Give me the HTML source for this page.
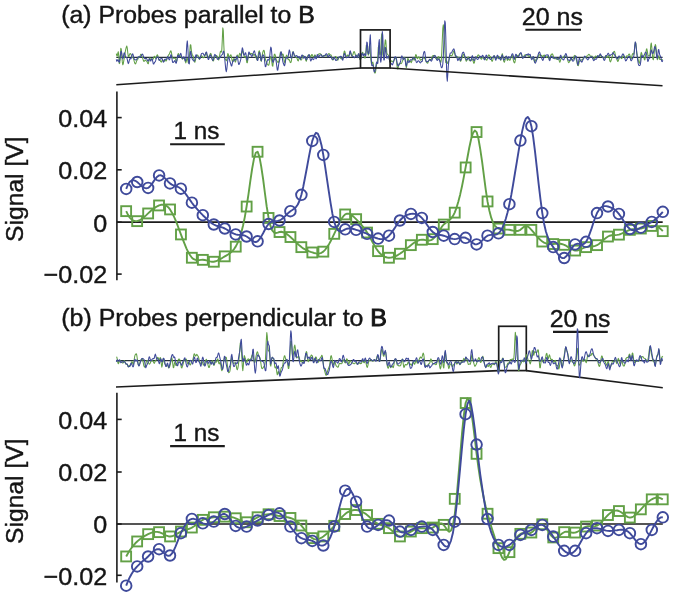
<!DOCTYPE html>
<html><head><meta charset="utf-8"><title>Probe signals</title>
<style>
html,body{margin:0;padding:0;background:#fff;}
#fig{position:relative;width:674px;height:602px;overflow:hidden;background:#fff;}
#fig svg{filter:blur(0.5px);}
</style></head><body>
<div id="fig">
<svg width="674" height="602" viewBox="0 0 674 602" style="position:absolute;left:0;top:0"><line x1="116.3" y1="57.4" x2="662.6" y2="57.4" stroke="#26323c" stroke-width="1.1"/><polyline points="116.3,53.7 116.8,55.6 117.3,56.0 117.8,53.2 118.3,51.8 118.8,56.7 119.3,63.6 119.8,63.0 120.3,54.8 120.8,48.2 121.3,49.2 121.8,55.6 122.3,61.9 122.8,64.8 123.3,63.7 123.8,60.7 124.3,57.8 124.8,55.0 125.3,51.7 125.8,49.1 126.3,47.2 126.8,46.0 127.3,48.2 127.8,53.0 128.3,56.3 128.8,56.5 129.3,55.1 129.8,53.9 130.3,53.5 130.8,54.1 131.3,55.1 131.8,56.2 132.3,57.1 132.8,57.6 133.3,58.2 133.8,59.7 134.3,61.7 134.8,63.3 135.3,64.0 135.8,63.5 136.3,61.9 136.8,60.5 137.3,60.0 137.8,59.3 138.3,58.0 138.8,57.2 139.3,57.2 139.8,56.8 140.3,55.3 140.8,54.2 141.3,54.7 141.8,56.0 142.3,57.1 142.8,58.6 143.3,60.3 143.8,61.4 144.3,61.3 144.8,60.6 145.3,60.0 145.8,60.3 146.3,60.9 146.8,61.3 147.3,62.2 147.8,63.6 148.3,63.8 148.8,61.5 149.3,58.5 149.8,57.8 150.3,59.1 150.8,59.7 151.3,59.1 151.8,58.8 152.3,59.2 152.8,59.4 153.3,58.6 153.8,57.2 154.3,56.3 154.8,56.5 155.3,57.8 155.8,58.6 156.3,57.5 156.8,55.6 157.3,54.8 157.8,55.6 158.3,57.5 158.8,59.3 159.3,60.1 159.8,60.0 160.3,60.5 160.8,61.7 161.3,62.1 161.8,61.0 162.3,59.7 162.8,59.9 163.3,61.2 163.8,61.7 164.3,60.7 164.8,59.9 165.3,60.3 165.8,61.0 166.3,60.9 166.8,59.7 167.3,57.9 167.8,56.4 168.3,55.4 168.8,54.7 169.3,54.1 169.8,53.1 170.3,51.5 170.8,50.7 171.3,51.9 171.8,54.6 172.3,57.1 172.8,58.2 173.3,58.2 173.8,58.3 174.3,58.3 174.8,58.0 175.3,58.5 175.8,60.2 176.3,61.5 176.8,60.7 177.3,57.7 177.8,54.6 178.3,53.5 178.8,54.4 179.3,55.8 179.8,56.4 180.3,56.2 180.8,56.0 181.3,56.6 181.8,57.9 182.3,58.9 182.8,58.9 183.3,58.6 183.8,58.4 184.3,58.4 184.8,59.3 185.3,61.3 185.8,62.9 186.3,61.4 186.8,58.6 187.3,58.2 187.8,60.5 188.3,62.8 188.8,62.6 189.3,58.7 189.8,51.2 190.3,44.7 190.8,44.9 191.3,49.7 191.8,53.5 192.3,54.9 192.8,55.5 193.3,56.9 193.8,59.3 194.3,61.5 194.8,62.2 195.3,60.9 195.8,58.5 196.3,56.3 196.8,55.4 197.3,55.1 197.8,55.1 198.3,56.2 198.8,58.3 199.3,59.4 199.8,58.7 200.3,57.5 200.8,56.4 201.3,55.7 201.8,55.8 202.3,56.6 202.8,57.5 203.3,57.8 203.8,57.7 204.3,57.3 204.8,56.1 205.3,54.3 205.8,53.0 206.3,53.3 206.8,54.8 207.3,56.5 207.8,57.3 208.3,57.1 208.8,56.5 209.3,55.9 209.8,54.9 210.3,53.7 210.8,53.4 211.3,54.7 211.8,57.0 212.3,59.2 212.8,60.7 213.3,60.9 213.8,59.9 214.3,58.1 214.8,56.7 215.3,55.9 215.8,55.7 216.3,55.6 216.8,55.7 217.3,56.5 217.8,58.1 218.3,59.7 218.8,59.9 219.3,57.9 219.8,54.5 220.3,51.8 220.8,51.2 221.3,52.1 221.8,50.1 222.3,39.8 222.8,27.9 223.3,30.5 223.8,44.7 224.3,55.1 224.8,58.7 225.3,59.2 225.8,59.7 226.3,60.7 226.8,60.1 227.3,56.8 227.8,53.6 228.3,54.1 228.8,56.7 229.3,57.5 229.8,56.5 230.3,55.5 230.8,54.8 231.3,55.9 231.8,58.9 232.3,61.2 232.8,61.4 233.3,60.0 233.8,58.5 234.3,58.7 234.8,60.7 235.3,62.1 235.8,61.2 236.3,58.8 236.8,56.2 237.3,55.0 237.8,55.9 238.3,57.2 238.8,56.6 239.3,54.4 239.8,53.2 240.3,54.1 240.8,55.5 241.3,55.3 241.8,52.9 242.3,50.8 242.8,51.0 243.3,53.0 243.8,55.2 244.3,56.8 244.8,57.1 245.3,56.3 245.8,56.7 246.3,59.5 246.8,62.5 247.3,62.8 247.8,59.9 248.3,55.8 248.8,53.4 249.3,53.4 249.8,54.2 250.3,54.0 250.8,53.3 251.3,53.4 251.8,53.9 252.3,53.8 252.8,54.0 253.3,55.0 253.8,55.3 254.3,54.6 254.8,54.8 255.3,56.1 255.8,57.3 256.3,58.1 256.8,59.5 257.3,60.3 257.8,58.1 258.3,54.3 258.8,51.5 259.3,50.8 259.8,52.7 260.3,56.8 260.8,60.4 261.3,61.2 261.8,58.7 262.3,54.9 262.8,52.3 263.3,50.9 263.8,50.2 264.3,51.1 264.8,54.8 265.3,58.8 265.8,60.5 266.3,61.4 266.8,62.9 267.3,64.3 267.8,64.8 268.3,65.1 268.8,65.1 269.3,63.1 269.8,59.8 270.3,57.4 270.8,56.6 271.3,57.9 271.8,61.8 272.3,65.8 272.8,66.2 273.3,62.2 273.8,57.3 274.3,54.4 274.8,54.1 275.3,55.4 275.8,57.8 276.3,59.9 276.8,60.9 277.3,61.5 277.8,62.2 278.3,62.5 278.8,61.6 279.3,59.2 279.8,55.7 280.3,52.7 280.8,52.0 281.3,53.8 281.8,55.4 282.3,54.8 282.8,53.9 283.3,54.8 283.8,58.0 284.3,61.6 284.8,62.9 285.3,61.0 285.8,58.0 286.3,55.6 286.8,55.1 287.3,56.4 287.8,58.5 288.3,59.7 288.8,59.6 289.3,59.8 289.8,61.1 290.3,62.5 290.8,62.6 291.3,61.2 291.8,58.1 292.3,54.2 292.8,51.8 293.3,52.0 293.8,53.6 294.3,54.8 294.8,55.4 295.3,56.4 295.8,57.3 296.3,57.6 296.8,57.9 297.3,59.0 297.8,60.5 298.3,60.9 298.8,59.2 299.3,57.1 299.8,57.1 300.3,58.7 300.8,60.0 301.3,60.0 301.8,59.2 302.3,57.7 302.8,56.1 303.3,55.6 303.8,56.1 304.3,56.5 304.8,56.9 305.3,58.3 305.8,60.5 306.3,61.2 306.8,59.7 307.3,57.4 307.8,55.6 308.3,55.0 308.8,54.9 309.3,54.8 309.8,55.3 310.3,56.7 310.8,57.0 311.3,55.7 311.8,54.5 312.3,54.7 312.8,55.9 313.3,56.9 313.8,56.9 314.3,55.9 314.8,54.9 315.3,55.2 315.8,56.8 316.3,57.9 316.8,57.5 317.3,56.3 317.8,55.5 318.3,54.8 318.8,54.0 319.3,53.7 319.8,53.7 320.3,53.8 320.8,54.1 321.3,54.6 321.8,55.3 322.3,56.3 322.8,56.8 323.3,56.2 323.8,55.6 324.3,55.6 324.8,55.5 325.3,55.5 325.8,55.9 326.3,56.1 326.8,55.7 327.3,55.4 327.8,55.0 328.3,54.3 328.8,53.6 329.3,53.7 329.8,54.6 330.3,54.9 330.8,54.7 331.3,55.5 331.8,57.4 332.3,59.2 332.8,59.9 333.3,59.7 333.8,59.0 334.3,58.0 334.8,57.1 335.3,56.5 335.8,56.6 336.3,57.3 336.8,58.3 337.3,59.7 337.8,60.2 338.3,59.2 338.8,57.5 339.3,56.7 339.8,56.9 340.3,57.7 340.8,58.5 341.3,58.8 341.8,58.8 342.3,58.9 342.8,58.3 343.3,56.3 343.8,53.3 344.3,51.1 344.8,51.3 345.3,53.3 345.8,55.4 346.3,56.5 346.8,56.3 347.3,55.3 347.8,55.1 348.3,55.8 348.8,56.0 349.3,55.1 349.8,53.4 350.3,52.4 350.8,53.2 351.3,55.1 351.8,56.3 352.3,56.0 352.8,54.8 353.3,53.1 353.8,51.7 354.3,51.6 354.8,52.9 355.3,54.8 355.8,56.2 356.3,56.5 356.8,56.7 357.3,56.7 357.8,55.3 358.3,54.0 358.8,55.1 359.3,57.6 359.8,59.4 360.3,60.0 360.8,59.3 361.3,57.3 361.8,54.3 362.3,52.3 362.8,52.5 363.3,53.9 363.8,55.1 364.3,56.3 364.8,58.0 365.3,57.9 365.8,52.0 366.3,45.2 366.8,46.6 367.3,50.9 367.8,53.4 368.3,55.2 368.8,53.6 369.3,46.1 369.8,44.3 370.3,52.5 370.8,59.6 371.3,63.2 371.8,63.9 372.3,62.6 372.8,62.1 373.3,64.2 373.8,67.7 374.3,71.0 374.8,73.0 375.3,73.0 375.8,70.4 376.3,66.4 376.8,63.7 377.3,62.3 377.8,57.1 378.3,47.4 378.8,45.7 379.3,51.6 379.8,55.0 380.3,54.9 380.8,50.0 381.3,38.4 381.8,33.7 382.3,44.8 382.8,54.5 383.3,56.4 383.8,54.4 384.3,50.5 384.8,44.9 385.3,39.8 385.8,40.8 386.3,47.1 386.8,52.4 387.3,54.3 387.8,54.7 388.3,55.1 388.8,56.6 389.3,59.1 389.8,61.6 390.3,62.6 390.8,62.0 391.3,61.1 391.8,60.8 392.3,61.3 392.8,61.8 393.3,61.7 393.8,60.9 394.3,59.7 394.8,58.7 395.3,58.1 395.8,57.8 396.3,59.4 396.8,63.8 397.3,68.2 397.8,69.1 398.3,66.8 398.8,64.3 399.3,63.4 399.8,63.5 400.3,63.6 400.8,63.7 401.3,63.5 401.8,62.7 402.3,61.4 402.8,60.2 403.3,59.0 403.8,58.1 404.3,57.4 404.8,57.6 405.3,60.1 405.8,64.8 406.3,67.7 406.8,65.8 407.3,61.2 407.8,58.4 408.3,59.0 408.8,60.8 409.3,61.5 409.8,61.2 410.3,61.1 410.8,62.0 411.3,62.6 411.8,61.6 412.3,59.2 412.8,57.7 413.3,58.4 413.8,59.9 414.3,60.2 414.8,58.7 415.3,56.3 415.8,54.6 416.3,55.2 416.8,57.3 417.3,58.7 417.8,58.3 418.3,57.2 418.8,56.8 419.3,57.3 419.8,58.6 420.3,60.0 420.8,60.2 421.3,59.6 421.8,59.5 422.3,59.1 422.8,58.1 423.3,57.7 423.8,58.1 424.3,58.3 424.8,58.4 425.3,59.5 425.8,61.0 426.3,61.8 426.8,62.4 427.3,63.2 427.8,63.1 428.3,61.6 428.8,60.5 429.3,60.1 429.8,59.8 430.3,59.6 430.8,59.9 431.3,59.5 431.8,57.9 432.3,56.4 432.8,55.7 433.3,55.4 433.8,55.4 434.3,55.5 434.8,55.8 435.3,56.9 435.8,58.1 436.3,58.9 436.8,59.4 437.3,59.3 437.8,58.0 438.3,56.6 438.8,57.0 439.3,58.7 439.8,60.3 440.3,61.6 440.8,62.4 441.3,60.0 441.8,51.9 442.3,39.4 442.8,28.4 443.3,24.7 443.8,29.2 444.3,38.2 444.8,48.7 445.3,58.5 445.8,62.6 446.3,61.4 446.8,61.1 447.3,62.5 447.8,63.5 448.3,62.9 448.8,60.4 449.3,57.5 449.8,55.7 450.3,55.2 450.8,55.4 451.3,55.7 451.8,55.7 452.3,55.1 452.8,53.8 453.3,51.9 453.8,50.9 454.3,51.7 454.8,54.0 455.3,56.1 455.8,56.8 456.3,56.4 456.8,56.3 457.3,56.8 457.8,57.4 458.3,57.5 458.8,57.2 459.3,57.5 459.8,59.3 460.3,61.1 460.8,61.1 461.3,59.8 461.8,58.4 462.3,57.0 462.8,55.3 463.3,54.2 463.8,54.5 464.3,55.9 464.8,57.3 465.3,58.6 465.8,60.2 466.3,61.2 466.8,60.6 467.3,58.9 467.8,57.2 468.3,56.9 468.8,58.6 469.3,60.4 469.8,60.8 470.3,60.6 470.8,60.6 471.3,60.2 471.8,59.2 472.3,58.9 472.8,60.0 473.3,61.8 473.8,63.2 474.3,63.0 474.8,60.7 475.3,58.0 475.8,57.0 476.3,57.2 476.8,57.3 477.3,56.5 477.8,55.4 478.3,54.8 478.8,55.2 479.3,55.9 479.8,56.5 480.3,57.5 480.8,58.6 481.3,59.2 481.8,58.9 482.3,57.7 482.8,56.7 483.3,57.2 483.8,58.4 484.3,59.0 484.8,58.6 485.3,58.5 485.8,59.0 486.3,59.9 486.8,60.2 487.3,59.1 487.8,57.1 488.3,55.4 488.8,54.9 489.3,55.4 489.8,56.1 490.3,56.6 490.8,57.7 491.3,59.5 491.8,61.1 492.3,61.3 492.8,59.9 493.3,57.6 493.8,55.8 494.3,55.7 494.8,56.8 495.3,57.8 495.8,58.2 496.3,58.5 496.8,58.6 497.3,58.1 497.8,57.1 498.3,56.4 498.8,56.4 499.3,57.1 499.8,58.2 500.3,59.6 500.8,60.1 501.3,58.4 501.8,55.2 502.3,53.7 502.8,55.7 503.3,59.1 503.8,61.5 504.3,62.2 504.8,61.1 505.3,58.6 505.8,56.4 506.3,56.6 506.8,58.6 507.3,60.4 507.8,60.1 508.3,58.8 508.8,58.7 509.3,59.8 509.8,60.3 510.3,59.7 510.8,58.2 511.3,56.5 511.8,55.3 512.3,55.4 512.8,57.2 513.3,59.8 513.8,61.8 514.3,62.9 514.8,62.6 515.3,60.5 515.8,57.3 516.3,55.3 516.8,55.1 517.3,55.7 517.8,55.8 518.3,55.6 518.8,55.1 519.3,54.3 519.8,53.6 520.3,53.6 520.8,53.9 521.3,54.4 521.8,55.5 522.3,56.9 522.8,57.7 523.3,57.5 523.8,56.6 524.3,55.6 524.8,54.9 525.3,54.9 525.8,54.8 526.3,54.5 526.8,54.6 527.3,55.0 527.8,55.3 528.3,55.7 528.8,56.3 529.3,56.4 529.8,56.1 530.3,56.3 530.8,57.3 531.3,58.0 531.8,57.8 532.3,57.2 532.8,56.9 533.3,57.7 533.8,59.6 534.3,61.5 534.8,62.1 535.3,61.2 535.8,59.7 536.3,58.9 536.8,58.9 537.3,58.9 537.8,57.9 538.3,56.3 538.8,55.0 539.3,54.6 539.8,55.0 540.3,55.5 540.8,55.5 541.3,55.3 541.8,55.5 542.3,56.3 542.8,56.8 543.3,56.2 543.8,55.2 544.3,55.1 544.8,55.9 545.3,56.3 545.8,56.5 546.3,57.2 546.8,57.5 547.3,56.8 547.8,55.9 548.3,56.0 548.8,57.8 549.3,59.6 549.8,59.1 550.3,56.8 550.8,55.0 551.3,54.5 551.8,54.1 552.3,53.9 552.8,54.6 553.3,56.0 553.8,57.4 554.3,58.5 554.8,58.8 555.3,58.7 555.8,58.6 556.3,58.7 556.8,59.3 557.3,59.4 557.8,58.5 558.3,58.0 558.8,59.1 559.3,61.1 559.8,62.2 560.3,61.2 560.8,59.3 561.3,58.3 561.8,57.9 562.3,57.4 562.8,57.2 563.3,57.2 563.8,56.6 564.3,55.8 564.8,55.7 565.3,56.1 565.8,56.4 566.3,56.5 566.8,57.1 567.3,58.6 567.8,60.6 568.3,62.1 568.8,62.6 569.3,62.0 569.8,61.1 570.3,60.3 570.8,59.7 571.3,59.3 571.8,59.4 572.3,59.8 572.8,59.6 573.3,58.5 573.8,57.0 574.3,55.7 574.8,55.4 575.3,56.2 575.8,57.8 576.3,59.5 576.8,61.5 577.3,63.8 577.8,65.6 578.3,65.7 578.8,63.9 579.3,61.7 579.8,60.7 580.3,60.8 580.8,60.6 581.3,60.1 581.8,59.8 582.3,59.6 582.8,59.0 583.3,58.2 583.8,57.6 584.3,57.3 584.8,57.4 585.3,57.8 585.8,57.8 586.3,56.8 586.8,56.1 587.3,56.0 587.8,55.5 588.3,54.7 588.8,54.3 589.3,54.6 589.8,55.2 590.3,55.9 590.8,56.5 591.3,56.4 591.8,56.0 592.3,56.4 592.8,57.6 593.3,58.7 593.8,59.1 594.3,58.6 594.8,57.4 595.3,56.2 595.8,56.0 596.3,56.5 596.8,56.7 597.3,56.0 597.8,55.6 598.3,56.2 598.8,56.7 599.3,56.3 599.8,55.6 600.3,55.5 600.8,55.8 601.3,56.2 601.8,56.6 602.3,56.9 602.8,57.3 603.3,57.8 603.8,58.1 604.3,58.0 604.8,57.5 605.3,56.5 605.8,55.6 606.3,56.1 606.8,57.3 607.3,57.5 607.8,56.5 608.3,55.4 608.8,55.8 609.3,57.9 609.8,60.7 610.3,61.9 610.8,61.2 611.3,59.8 611.8,58.3 612.3,56.3 612.8,54.1 613.3,52.6 613.8,51.7 614.3,51.3 614.8,52.3 615.3,54.6 615.8,57.0 616.3,58.4 616.8,59.3 617.3,60.6 617.8,61.5 618.3,60.9 618.8,59.3 619.3,58.0 619.8,57.3 620.3,57.2 620.8,57.7 621.3,58.4 621.8,58.6 622.3,57.6 622.8,56.2 623.3,55.7 623.8,56.1 624.3,56.6 624.8,57.2 625.3,57.8 625.8,57.7 626.3,56.6 626.8,55.8 627.3,55.9 627.8,56.0 628.3,55.2 628.8,54.2 629.3,54.0 629.8,55.0 630.3,56.7 630.8,58.4 631.3,58.6 631.8,56.7 632.3,54.3 632.8,53.5 633.3,54.2 633.8,54.1 634.3,51.1 634.8,45.8 635.3,42.2 635.8,43.1 636.3,47.7 636.8,52.6 637.3,55.9 637.8,58.0 638.3,60.2 638.8,62.2 639.3,63.3 639.8,62.4 640.3,58.7 640.8,54.4 641.3,52.4 641.8,53.7 642.3,56.2 642.8,56.8 643.3,56.1 643.8,57.1 644.3,59.4 644.8,59.9 645.3,57.6 645.8,53.4 646.3,49.8 646.8,48.8 647.3,51.1 647.8,54.4 648.3,55.9 648.8,55.7 649.3,55.7 649.8,55.2 650.3,51.1 650.8,45.0 651.3,43.0 651.8,47.2 652.3,53.8 652.8,58.8 653.3,59.8 653.8,56.8 654.3,51.7 654.8,46.9 655.3,44.5 655.8,45.8 656.3,49.9 656.8,55.4 657.3,59.7 657.8,58.9 658.3,55.9 658.8,56.0 659.3,58.1 659.8,59.5 660.3,59.6 660.8,59.3 661.3,59.5 661.8,59.8 662.3,59.8 662.8,59.4" fill="none" stroke="#62a046" stroke-width="1.05" stroke-linejoin="round"/><polyline points="116.3,59.3 116.8,61.3 117.3,60.7 117.8,59.6 118.3,60.3 118.8,61.9 119.3,62.2 119.8,60.1 120.3,56.1 120.8,52.2 121.3,51.2 121.8,53.7 122.3,57.2 122.8,58.9 123.3,57.3 123.8,54.0 124.3,52.7 124.8,53.9 125.3,55.7 125.8,57.3 126.3,57.5 126.8,57.5 127.3,59.3 127.8,62.1 128.3,63.6 128.8,62.7 129.3,60.4 129.8,58.7 130.3,58.6 130.8,59.0 131.3,58.1 131.8,55.9 132.3,54.1 132.8,53.9 133.3,55.4 133.8,57.7 134.3,59.2 134.8,59.5 135.3,59.8 135.8,60.0 136.3,59.6 136.8,59.1 137.3,58.4 137.8,57.4 138.3,56.8 138.8,56.7 139.3,56.8 139.8,57.1 140.3,57.2 140.8,56.7 141.3,55.7 141.8,54.7 142.3,54.0 142.8,54.5 143.3,55.8 143.8,57.0 144.3,57.9 144.8,58.6 145.3,58.6 145.8,58.4 146.3,58.4 146.8,58.9 147.3,59.9 147.8,60.9 148.3,61.1 148.8,59.9 149.3,58.7 149.8,59.4 150.3,60.8 150.8,61.0 151.3,59.8 151.8,58.7 152.3,59.3 152.8,61.6 153.3,63.9 153.8,64.0 154.3,62.9 154.8,62.1 155.3,61.7 155.8,60.2 156.3,58.4 156.8,57.4 157.3,56.9 157.8,56.8 158.3,57.7 158.8,59.4 159.3,60.4 159.8,59.8 160.3,58.9 160.8,58.7 161.3,58.7 161.8,58.3 162.3,58.8 162.8,60.6 163.3,62.1 163.8,61.8 164.3,60.3 164.8,59.3 165.3,59.1 165.8,59.4 166.3,59.6 166.8,58.7 167.3,57.3 167.8,56.6 168.3,57.5 168.8,59.0 169.3,59.9 169.8,59.2 170.3,57.0 170.8,54.8 171.3,54.8 171.8,57.7 172.3,61.0 172.8,62.5 173.3,62.4 173.8,62.0 174.3,61.2 174.8,60.5 175.3,61.4 175.8,63.1 176.3,63.2 176.8,61.1 177.3,57.8 177.8,55.2 178.3,55.2 178.8,56.8 179.3,57.2 179.8,55.7 180.3,53.8 180.8,53.3 181.3,55.0 181.8,57.6 182.3,58.8 182.8,58.2 183.3,57.2 183.8,56.8 184.3,57.6 184.8,59.4 185.3,61.0 185.8,59.8 186.3,53.4 186.8,44.5 187.3,40.9 187.8,46.5 188.3,56.7 188.8,63.6 189.3,63.9 189.8,58.5 190.3,52.3 190.8,51.2 191.3,54.8 191.8,57.9 192.3,59.1 192.8,59.8 193.3,60.4 193.8,60.9 194.3,61.1 194.8,60.2 195.3,57.6 195.8,55.0 196.3,54.8 196.8,56.4 197.3,57.4 197.8,57.5 198.3,57.6 198.8,58.0 199.3,58.7 199.8,58.9 200.3,57.7 200.8,55.6 201.3,54.0 201.8,53.4 202.3,53.3 202.8,53.2 203.3,53.6 203.8,54.7 204.3,55.5 204.8,55.4 205.3,54.3 205.8,52.8 206.3,51.9 206.8,52.8 207.3,55.3 207.8,58.1 208.3,59.5 208.8,59.2 209.3,57.7 209.8,55.8 210.3,54.8 210.8,55.4 211.3,57.1 211.8,58.6 212.3,59.7 212.8,60.5 213.3,60.0 213.8,57.9 214.3,55.5 214.8,54.4 215.3,54.9 215.8,55.7 216.3,56.6 216.8,57.9 217.3,59.1 217.8,59.4 218.3,59.0 218.8,58.2 219.3,57.8 219.8,57.9 220.3,57.4 220.8,56.2 221.3,55.2 221.8,54.9 222.3,54.5 222.8,53.2 223.3,51.2 223.8,51.3 224.3,54.6 224.8,59.3 225.3,64.6 225.8,69.6 226.3,71.7 226.8,69.2 227.3,64.4 227.8,59.9 228.3,57.2 228.8,56.9 229.3,58.6 229.8,61.0 230.3,62.5 230.8,64.0 231.3,65.9 231.8,65.9 232.3,63.5 232.8,61.5 233.3,61.1 233.8,60.9 234.3,59.8 234.8,59.3 235.3,59.9 235.8,59.8 236.3,58.0 236.8,56.1 237.3,56.4 237.8,59.3 238.3,62.8 238.8,64.5 239.3,64.1 239.8,62.6 240.3,61.1 240.8,59.2 241.3,55.8 241.8,51.1 242.3,47.8 242.8,48.9 243.3,52.4 243.8,54.7 244.3,55.2 244.8,54.2 245.3,52.8 245.8,53.0 246.3,55.8 246.8,59.0 247.3,60.2 247.8,58.4 248.3,54.7 248.8,52.0 249.3,52.3 249.8,54.0 250.3,54.6 250.8,54.6 251.3,55.6 251.8,56.5 252.3,55.9 252.8,54.3 253.3,52.9 253.8,51.6 254.3,50.8 254.8,52.0 255.3,54.5 255.8,55.5 256.3,55.9 256.8,57.9 257.3,60.2 257.8,60.4 258.3,58.2 258.8,55.0 259.3,52.4 259.8,52.5 260.3,55.4 260.8,59.1 261.3,60.8 261.8,58.9 262.3,56.0 262.8,54.9 263.3,54.9 263.8,55.6 264.3,58.1 264.8,62.9 265.3,66.7 265.8,66.6 266.3,64.5 266.8,62.3 267.3,60.6 267.8,59.6 268.3,59.7 268.8,60.2 269.3,59.1 269.8,55.4 270.3,50.4 270.8,47.1 271.3,48.3 271.8,53.9 272.3,59.7 272.8,62.3 273.3,62.1 273.8,60.8 274.3,59.4 274.8,58.4 275.3,58.4 275.8,59.7 276.3,62.3 276.8,66.3 277.3,70.1 277.8,70.2 278.3,66.8 278.8,63.5 279.3,61.7 279.8,59.4 280.3,55.5 280.8,52.1 281.3,51.9 281.8,54.6 282.3,58.1 282.8,61.3 283.3,63.3 283.8,64.5 284.3,65.8 284.8,65.2 285.3,62.1 285.8,59.0 286.3,57.4 286.8,57.7 287.3,58.2 287.8,57.8 288.3,55.9 288.8,52.4 289.3,49.9 289.8,51.1 290.3,54.7 290.8,57.4 291.3,58.2 291.8,57.5 292.3,55.2 292.8,52.4 293.3,51.8 293.8,53.7 294.3,55.6 294.8,56.3 295.3,56.3 295.8,56.2 296.3,55.7 296.8,55.5 297.3,56.3 297.8,57.4 298.3,57.3 298.8,56.5 299.3,56.8 299.8,58.4 300.3,59.3 300.8,58.3 301.3,56.5 301.8,55.3 302.3,55.0 302.8,55.8 303.3,57.3 303.8,58.3 304.3,57.6 304.8,56.3 305.3,56.6 305.8,58.5 306.3,59.8 306.8,59.3 307.3,58.0 307.8,57.0 308.3,56.0 308.8,54.8 309.3,54.8 309.8,57.0 310.3,59.9 310.8,61.0 311.3,60.0 311.8,58.7 312.3,58.5 312.8,59.1 313.3,59.6 313.8,59.3 314.3,57.7 314.8,56.1 315.3,56.7 315.8,58.7 316.3,58.8 316.8,56.4 317.3,54.5 317.8,55.2 318.3,57.0 318.8,57.2 319.3,56.1 319.8,55.2 320.3,54.9 320.8,54.7 321.3,55.0 321.8,56.0 322.3,56.7 322.8,56.4 323.3,55.8 323.8,55.8 324.3,56.0 324.8,55.6 325.3,54.9 325.8,54.2 326.3,53.7 326.8,54.0 327.3,55.5 327.8,56.8 328.3,56.8 328.8,55.8 329.3,55.2 329.8,55.7 330.3,56.5 330.8,56.7 331.3,57.3 331.8,58.7 332.3,59.6 332.8,59.5 333.3,59.1 333.8,58.1 334.3,57.4 334.8,58.1 335.3,59.6 335.8,60.5 336.3,60.4 336.8,60.0 337.3,59.5 337.8,58.7 338.3,57.8 338.8,57.2 339.3,57.0 339.8,57.0 340.3,56.7 340.8,56.2 341.3,56.4 341.8,57.8 342.3,59.6 342.8,60.1 343.3,58.1 343.8,55.1 344.3,53.4 344.8,54.0 345.3,55.6 345.8,57.0 346.3,57.7 346.8,57.7 347.3,57.1 347.8,56.9 348.3,57.3 348.8,56.9 349.3,54.5 349.8,51.6 350.3,50.9 350.8,52.7 351.3,54.7 351.8,55.8 352.3,56.2 352.8,56.4 353.3,56.6 353.8,57.0 354.3,57.6 354.8,57.6 355.3,56.7 355.8,55.5 356.3,55.1 356.8,56.2 357.3,57.6 357.8,57.0 358.3,54.6 358.8,53.5 359.3,55.1 359.8,57.9 360.3,59.4 360.8,58.4 361.3,55.6 361.8,53.4 362.3,53.3 362.8,54.8 363.3,55.9 363.8,55.1 364.3,53.7 364.8,54.1 365.3,55.6 365.8,55.4 366.3,50.4 366.8,42.0 367.3,42.7 367.8,50.5 368.3,53.8 368.8,53.6 369.3,50.1 369.8,40.5 370.3,34.7 370.8,45.0 371.3,59.5 371.8,65.6 372.3,65.4 372.8,64.7 373.3,66.8 373.8,70.3 374.3,72.0 374.8,71.6 375.3,69.9 375.8,66.6 376.3,63.1 376.8,62.0 377.3,63.2 377.8,63.4 378.3,56.8 378.8,43.0 379.3,39.6 379.8,50.8 380.3,59.4 380.8,62.2 381.3,59.2 381.8,45.8 382.3,31.6 382.8,35.9 383.3,51.0 383.8,59.9 384.3,60.0 384.8,53.6 385.3,47.2 385.8,48.6 386.3,54.9 386.8,58.2 387.3,58.0 387.8,56.6 388.3,56.0 388.8,57.1 389.3,59.3 389.8,61.2 390.3,62.3 390.8,63.0 391.3,63.6 391.8,64.4 392.3,64.9 392.8,64.1 393.3,62.5 393.8,60.9 394.3,59.0 394.8,57.3 395.3,56.7 395.8,57.1 396.3,58.3 396.8,60.9 397.3,64.0 397.8,65.7 398.3,65.8 398.8,65.2 399.3,64.4 399.8,63.5 400.3,62.3 400.8,60.2 401.3,57.4 401.8,55.8 402.3,56.8 402.8,58.7 403.3,59.5 403.8,58.8 404.3,57.8 404.8,58.1 405.3,60.9 405.8,64.6 406.3,66.0 406.8,64.3 407.3,61.8 407.8,60.8 408.3,61.7 408.8,62.6 409.3,62.1 409.8,60.6 410.3,59.8 410.8,59.8 411.3,59.9 411.8,59.9 412.3,59.3 412.8,58.3 413.3,57.7 413.8,57.9 414.3,58.2 414.8,58.4 415.3,59.1 415.8,60.7 416.3,62.2 416.8,62.6 417.3,62.0 417.8,61.1 418.3,60.8 418.8,61.0 419.3,61.6 419.8,62.4 420.3,62.9 420.8,62.3 421.3,61.5 421.8,61.7 422.3,61.1 422.8,58.1 423.3,54.5 423.8,52.3 424.3,51.4 424.8,52.1 425.3,55.6 425.8,59.9 426.3,61.9 426.8,61.6 427.3,61.4 427.8,61.7 428.3,61.3 428.8,60.5 429.3,59.7 429.8,59.2 430.3,59.5 430.8,60.7 431.3,61.2 431.8,60.5 432.3,59.2 432.8,58.0 433.3,57.0 433.8,56.4 434.3,55.8 434.8,55.4 435.3,55.9 435.8,57.4 436.3,58.9 436.8,60.0 437.3,60.4 437.8,59.8 438.3,58.8 438.8,59.0 439.3,59.9 439.8,61.0 440.3,63.1 440.8,65.7 441.3,67.4 441.8,67.8 442.3,67.0 442.8,64.0 443.3,56.9 443.8,44.7 444.3,30.3 444.8,20.8 445.3,22.9 445.8,37.3 446.3,58.4 446.8,76.4 447.3,81.2 447.8,74.1 448.3,66.0 448.8,61.4 449.3,58.0 449.8,54.7 450.3,52.9 450.8,52.9 451.3,53.0 451.8,52.2 452.3,51.1 452.8,50.2 453.3,49.3 453.8,48.8 454.3,49.9 454.8,52.4 455.3,54.9 455.8,56.0 456.3,55.9 456.8,56.8 457.3,59.0 457.8,60.6 458.3,60.0 458.8,58.3 459.3,57.6 459.8,58.9 460.3,60.5 460.8,60.0 461.3,57.6 461.8,55.1 462.3,53.4 462.8,52.4 463.3,52.1 463.8,52.6 464.3,54.1 464.8,55.7 465.3,57.1 465.8,58.4 466.3,59.5 466.8,59.9 467.3,59.5 467.8,58.6 468.3,58.2 468.8,58.5 469.3,58.8 469.8,59.4 470.3,60.4 470.8,60.9 471.3,59.4 471.8,56.7 472.3,55.6 472.8,56.9 473.3,59.1 473.8,60.4 474.3,60.6 474.8,59.4 475.3,57.6 475.8,56.7 476.3,57.4 476.8,58.7 477.3,59.4 477.8,59.3 478.3,58.8 478.8,58.3 479.3,57.5 479.8,56.5 480.3,56.3 480.8,56.9 481.3,57.2 481.8,56.6 482.3,55.4 482.8,55.2 483.3,56.6 483.8,58.4 484.3,59.8 484.8,59.8 485.3,58.3 485.8,56.1 486.3,55.1 486.8,55.9 487.3,57.3 487.8,58.0 488.3,57.9 488.8,57.9 489.3,58.2 489.8,58.9 490.3,59.4 490.8,59.4 491.3,58.9 491.8,58.1 492.3,57.5 492.8,57.3 493.3,56.9 493.8,56.0 494.3,55.7 494.8,57.1 495.3,59.3 495.8,60.2 496.3,58.8 496.8,56.6 497.3,55.2 497.8,55.5 498.3,57.3 498.8,58.7 499.3,58.6 499.8,58.3 500.3,59.2 500.8,59.8 501.3,58.3 501.8,55.9 502.3,55.0 502.8,56.6 503.3,58.9 503.8,59.9 504.3,59.7 504.8,58.9 505.3,57.8 505.8,56.6 506.3,56.0 506.8,56.8 507.3,58.5 507.8,58.9 508.3,57.5 508.8,56.6 509.3,57.3 509.8,58.0 510.3,57.9 510.8,57.2 511.3,56.0 511.8,54.6 512.3,53.7 512.8,53.9 513.3,55.6 513.8,58.2 514.3,59.4 514.8,58.1 515.3,55.7 515.8,54.2 516.3,54.7 516.8,56.2 517.3,56.9 517.8,56.6 518.3,56.4 518.8,56.3 519.3,55.3 519.8,54.0 520.3,53.1 520.8,52.6 521.3,52.9 521.8,54.9 522.3,57.5 522.8,58.4 523.3,57.6 523.8,56.7 524.3,56.7 524.8,56.9 525.3,56.5 525.8,55.4 526.3,54.6 526.8,54.7 527.3,54.8 527.8,54.1 528.3,53.8 528.8,54.7 529.3,54.9 529.8,54.2 530.3,54.7 530.8,57.0 531.3,59.0 531.8,59.6 532.3,58.9 532.8,57.5 533.3,56.5 533.8,57.6 534.3,60.4 534.8,62.6 535.3,63.1 535.8,62.3 536.3,61.2 536.8,59.6 537.3,57.6 537.8,55.8 538.3,54.2 538.8,52.8 539.3,51.9 539.8,52.5 540.3,54.2 540.8,55.9 541.3,57.2 541.8,58.5 542.3,59.8 542.8,60.5 543.3,59.5 543.8,57.9 544.3,57.1 544.8,56.8 545.3,56.1 545.8,55.2 546.3,54.9 546.8,55.0 547.3,55.0 547.8,54.7 548.3,55.3 548.8,57.5 549.3,60.2 549.8,60.6 550.3,58.8 550.8,57.1 551.3,56.2 551.8,56.0 552.3,56.7 552.8,57.8 553.3,58.3 553.8,58.3 554.3,58.1 554.8,57.9 555.3,57.7 555.8,57.5 556.3,57.7 556.8,58.3 557.3,59.1 557.8,59.2 558.3,58.9 558.8,59.1 559.3,59.0 559.8,57.8 560.3,55.8 560.8,55.2 561.3,56.7 561.8,58.3 562.3,58.9 562.8,59.3 563.3,59.9 563.8,59.8 564.3,58.4 564.8,56.2 565.3,54.3 565.8,53.5 566.3,54.0 566.8,56.0 567.3,58.1 567.8,59.4 568.3,59.9 568.8,60.2 569.3,60.5 569.8,60.3 570.3,59.3 570.8,58.0 571.3,57.9 571.8,59.3 572.3,60.7 572.8,61.2 573.3,61.1 573.8,60.5 574.3,59.0 574.8,57.4 575.3,56.3 575.8,56.0 576.3,56.6 576.8,59.1 577.3,62.8 577.8,65.0 578.3,63.9 578.8,60.4 579.3,58.2 579.8,58.8 580.3,60.2 580.8,61.1 581.3,61.8 581.8,62.1 582.3,61.4 582.8,60.1 583.3,59.1 583.8,58.2 584.3,56.8 584.8,56.1 585.3,56.6 585.8,57.5 586.3,58.0 586.8,58.6 587.3,59.5 587.8,59.9 588.3,59.3 588.8,58.4 589.3,57.9 589.8,57.5 590.3,57.1 590.8,57.0 591.3,56.8 591.8,56.7 592.3,57.4 592.8,58.9 593.3,60.1 593.8,60.6 594.3,60.2 594.8,59.4 595.3,58.9 595.8,59.2 596.3,59.3 596.8,58.4 597.3,56.7 597.8,55.7 598.3,56.1 598.8,56.5 599.3,55.7 599.8,54.4 600.3,53.9 600.8,54.6 601.3,55.7 601.8,56.3 602.3,56.4 602.8,56.8 603.3,58.3 603.8,59.8 604.3,60.4 604.8,59.8 605.3,58.0 605.8,56.1 606.3,55.4 606.8,55.4 607.3,54.7 607.8,53.6 608.3,53.2 608.8,54.0 609.3,55.2 609.8,55.8 610.3,55.4 610.8,54.8 611.3,54.7 611.8,54.6 612.3,53.7 612.8,52.7 613.3,53.0 613.8,54.0 614.3,54.6 614.8,55.3 615.3,56.3 615.8,57.3 616.3,57.7 616.8,58.2 617.3,58.9 617.8,58.8 618.3,57.4 618.8,56.1 619.3,56.0 619.8,56.8 620.3,57.3 620.8,57.2 621.3,56.6 621.8,55.7 622.3,54.7 622.8,53.9 623.3,53.9 623.8,54.9 624.3,56.4 624.8,58.2 625.3,60.0 625.8,60.9 626.3,60.6 626.8,59.6 627.3,58.5 627.8,57.5 628.3,56.8 628.8,56.4 629.3,56.3 629.8,57.1 630.3,58.7 630.8,60.3 631.3,60.8 631.8,60.0 632.3,58.7 632.8,57.9 633.3,57.6 633.8,56.3 634.3,51.7 634.8,45.3 635.3,41.9 635.8,43.7 636.3,48.6 636.8,53.5 637.3,57.4 637.8,60.9 638.3,63.9 638.8,65.3 639.3,65.5 639.8,65.6 640.3,64.7 640.8,61.4 641.3,57.3 641.8,55.3 642.3,56.1 642.8,57.0 643.3,56.5 643.8,55.7 644.3,54.9 644.8,53.6 645.3,52.4 645.8,52.1 646.3,53.0 646.8,55.4 647.3,58.9 647.8,61.4 648.3,61.0 648.8,58.9 649.3,58.2 649.8,58.2 650.3,55.5 650.8,51.3 651.3,49.9 651.8,51.6 652.3,53.3 652.8,53.7 653.3,52.8 653.8,50.5 654.3,48.0 654.8,46.6 655.3,47.1 655.8,49.7 656.3,53.6 656.8,57.2 657.3,58.4 657.8,54.8 658.3,49.9 658.8,49.5 659.3,52.6 659.8,55.1 660.3,55.9 660.8,56.9 661.3,59.3 661.8,61.5 662.3,61.6 662.8,60.2" fill="none" stroke="#3f4a9b" stroke-width="1.05" stroke-linejoin="round"/><g stroke="#1c1c1c" stroke-width="1.6" fill="none"><rect x="360.5" y="29.9" width="29.6" height="38.1" stroke-width="1.7"/><polyline points="116.3,84.8 360.5,68"/><polyline points="390.1,68 662.5,85.8"/><line x1="525.4" y1="29.7" x2="581" y2="29.7" stroke-width="2.1"/><line x1="170.1" y1="144.3" x2="224.8" y2="144.3" stroke-width="2.1"/><polyline points="116.9,91.5 116.9,280.2"/><line x1="116.9" y1="117.6" x2="121.7" y2="117.6"/><line x1="116.9" y1="169.8" x2="121.7" y2="169.8"/><line x1="116.9" y1="222.2" x2="121.7" y2="222.2"/><line x1="116.9" y1="274.1" x2="121.7" y2="274.1"/><line x1="116.9" y1="222.2" x2="662.7" y2="222.2" stroke-width="1.7"/><rect x="498.7" y="326.3" width="27.6" height="44.3" stroke-width="1.7"/><polyline points="116.0,387.0 498.7,370.6"/><polyline points="526.3,370.6 662.8,387.7"/><line x1="553" y1="331.9" x2="607.8" y2="331.9" stroke-width="2.1"/><line x1="170.1" y1="446.1" x2="224.8" y2="446.1" stroke-width="2.1"/><polyline points="116.9,392.8 116.9,582.4"/><line x1="116.9" y1="419.4" x2="121.7" y2="419.4"/><line x1="116.9" y1="472" x2="121.7" y2="472"/><line x1="116.9" y1="524.0" x2="121.7" y2="524.0"/><line x1="116.9" y1="575.3" x2="121.7" y2="575.3"/><line x1="116.9" y1="524.0" x2="662.8" y2="524.0" stroke-width="1.7"/></g><line x1="116.3" y1="360.6" x2="662.6" y2="360.6" stroke="#26323c" stroke-width="1.1"/><polyline points="116.3,357.4 116.8,357.1 117.3,359.4 117.8,362.5 118.3,363.7 118.8,363.0 119.3,361.6 119.8,360.6 120.3,360.7 120.8,361.6 121.3,362.2 121.8,362.4 122.3,362.7 122.8,363.1 123.3,362.8 123.8,361.4 124.3,360.5 124.8,361.5 125.3,363.1 125.8,364.0 126.3,364.2 126.8,363.9 127.3,364.3 127.8,366.0 128.3,366.9 128.8,366.0 129.3,365.2 129.8,365.5 130.3,365.6 130.8,364.5 131.3,362.7 131.8,361.6 132.3,362.0 132.8,363.6 133.3,364.5 133.8,362.6 134.3,358.9 134.8,355.9 135.3,354.6 135.8,354.0 136.3,353.8 136.8,355.2 137.3,358.7 137.8,362.7 138.3,365.0 138.8,365.6 139.3,364.9 139.8,363.1 140.3,361.5 140.8,360.6 141.3,359.5 141.8,358.7 142.3,358.9 142.8,360.4 143.3,362.9 143.8,365.6 144.3,366.9 144.8,367.1 145.3,366.1 145.8,364.0 146.3,361.9 146.8,360.8 147.3,360.4 147.8,360.8 148.3,362.1 148.8,363.5 149.3,364.1 149.8,363.8 150.3,363.0 150.8,361.7 151.3,360.4 151.8,360.2 152.3,360.8 152.8,361.1 153.3,361.5 153.8,362.7 154.3,363.4 154.8,362.2 155.3,360.8 155.8,360.3 156.3,359.8 156.8,358.8 157.3,357.7 157.8,357.3 158.3,358.1 158.8,359.5 159.3,359.7 159.8,358.5 160.3,357.5 160.8,359.3 161.3,363.8 161.8,367.1 162.3,365.3 162.8,360.8 163.3,358.4 163.8,359.8 164.3,362.4 164.8,363.9 165.3,364.5 165.8,365.1 166.3,365.4 166.8,365.0 167.3,364.9 167.8,365.8 168.3,367.1 168.8,368.0 169.3,367.5 169.8,366.2 170.3,364.6 170.8,361.9 171.3,358.6 171.8,357.5 172.3,359.8 172.8,364.1 173.3,367.8 173.8,367.4 174.3,363.8 174.8,361.8 175.3,363.4 175.8,365.3 176.3,365.6 176.8,364.5 177.3,362.9 177.8,361.2 178.3,359.9 178.8,359.1 179.3,359.0 179.8,359.7 180.3,361.5 180.8,364.4 181.3,367.4 181.8,368.0 182.3,366.6 182.8,365.1 183.3,363.4 183.8,361.0 184.3,359.2 184.8,359.4 185.3,360.1 185.8,359.6 186.3,359.1 186.8,360.4 187.3,362.7 187.8,363.7 188.3,362.8 188.8,362.1 189.3,363.0 189.8,364.6 190.3,365.0 190.8,363.9 191.3,362.4 191.8,361.1 192.3,360.5 192.8,359.9 193.3,357.8 193.8,355.0 194.3,353.7 194.8,354.5 195.3,355.8 195.8,356.1 196.3,355.0 196.8,354.4 197.3,355.1 197.8,355.8 198.3,356.4 198.8,358.1 199.3,360.7 199.8,362.7 200.3,363.5 200.8,363.3 201.3,362.6 201.8,361.7 202.3,361.7 202.8,363.3 203.3,365.0 203.8,365.1 204.3,364.2 204.8,363.2 205.3,361.8 205.8,360.1 206.3,359.3 206.8,360.4 207.3,362.4 207.8,364.2 208.3,366.0 208.8,367.5 209.3,367.4 209.8,365.6 210.3,363.3 210.8,362.2 211.3,362.4 211.8,361.9 212.3,360.6 212.8,360.9 213.3,363.5 213.8,365.4 214.3,365.0 214.8,363.3 215.3,361.9 215.8,361.8 216.3,362.2 216.8,361.3 217.3,359.4 217.8,358.9 218.3,360.8 218.8,363.3 219.3,363.9 219.8,362.6 220.3,362.4 220.8,365.3 221.3,369.1 221.8,370.7 222.3,369.7 222.8,367.5 223.3,364.4 223.8,360.9 224.3,358.6 224.8,358.1 225.3,357.8 225.8,357.2 226.3,357.5 226.8,360.0 227.3,364.4 227.8,369.0 228.3,371.8 228.8,372.7 229.3,372.3 229.8,371.4 230.3,368.9 230.8,364.0 231.3,359.1 231.8,357.6 232.3,359.6 232.8,361.9 233.3,363.1 233.8,363.5 234.3,363.2 234.8,362.7 235.3,362.8 235.8,363.8 236.3,366.2 236.8,368.9 237.3,369.8 237.8,368.4 238.3,365.6 238.8,361.4 239.3,355.6 239.8,348.5 240.3,342.9 240.8,342.8 241.3,348.2 241.8,356.7 242.3,366.1 242.8,370.7 243.3,366.3 243.8,358.7 244.3,355.6 244.8,356.8 245.3,358.4 245.8,360.0 246.3,362.0 246.8,362.5 247.3,360.8 247.8,359.2 248.3,358.8 248.8,359.3 249.3,360.0 249.8,359.7 250.3,359.1 250.8,358.9 251.3,357.7 251.8,355.8 252.3,354.6 252.8,355.0 253.3,356.8 253.8,359.5 254.3,362.1 254.8,362.6 255.3,360.6 255.8,357.6 256.3,355.0 256.8,352.9 257.3,351.8 257.8,352.6 258.3,354.7 258.8,356.5 259.3,356.9 259.8,357.3 260.3,359.2 260.8,362.7 261.3,366.3 261.8,368.3 262.3,368.6 262.8,368.1 263.3,367.4 263.8,366.5 264.3,365.9 264.8,365.0 265.3,361.5 265.8,352.8 266.3,340.3 266.8,332.6 267.3,336.4 267.8,345.6 268.3,351.0 268.8,350.6 269.3,351.1 269.8,357.4 270.3,364.7 270.8,366.1 271.3,362.2 271.8,358.1 272.3,357.2 272.8,358.2 273.3,358.3 273.8,359.3 274.3,363.0 274.8,367.1 275.3,367.9 275.8,366.9 276.3,368.2 276.8,372.3 277.3,374.8 277.8,373.4 278.3,371.5 278.8,372.3 279.3,374.3 279.8,374.5 280.3,372.4 280.8,369.6 281.3,367.7 281.8,367.5 282.3,367.0 282.8,364.9 283.3,361.5 283.8,358.2 284.3,356.0 284.8,355.8 285.3,357.7 285.8,359.8 286.3,360.1 286.8,359.7 287.3,361.2 287.8,365.0 288.3,368.4 288.8,368.5 289.3,364.4 289.8,356.7 290.3,347.8 290.8,341.4 291.3,341.1 291.8,346.9 292.3,353.9 292.8,357.0 293.3,355.2 293.8,350.7 294.3,346.5 294.8,345.1 295.3,347.9 295.8,353.3 296.3,357.2 296.8,358.0 297.3,357.5 297.8,356.9 298.3,356.3 298.8,356.4 299.3,357.7 299.8,359.8 300.3,361.4 300.8,361.3 301.3,360.9 301.8,361.7 302.3,362.8 302.8,362.7 303.3,361.5 303.8,361.2 304.3,361.4 304.8,360.0 305.3,356.9 305.8,353.7 306.3,351.5 306.8,352.3 307.3,356.3 307.8,360.5 308.3,361.7 308.8,360.2 309.3,358.9 309.8,358.6 310.3,357.8 310.8,356.1 311.3,355.1 311.8,355.3 312.3,355.9 312.8,357.5 313.3,360.1 313.8,362.0 314.3,361.6 314.8,359.6 315.3,357.8 315.8,356.9 316.3,357.4 316.8,359.2 317.3,361.0 317.8,362.2 318.3,362.3 318.8,361.3 319.3,359.7 319.8,358.4 320.3,358.0 320.8,357.4 321.3,356.2 321.8,355.2 322.3,356.1 322.8,359.3 323.3,363.7 323.8,367.3 324.3,369.7 324.8,371.4 325.3,373.3 325.8,375.0 326.3,375.2 326.8,373.8 327.3,372.0 327.8,370.5 328.3,369.0 328.8,367.6 329.3,366.5 329.8,364.3 330.3,359.8 330.8,356.1 331.3,355.7 331.8,357.6 332.3,360.4 332.8,363.3 333.3,365.0 333.8,364.1 334.3,361.9 334.8,361.3 335.3,363.0 335.8,365.1 336.3,366.0 336.8,366.3 337.3,366.9 337.8,367.3 338.3,366.8 338.8,365.2 339.3,363.7 339.8,363.2 340.3,363.6 340.8,363.8 341.3,363.7 341.8,363.5 342.3,362.7 342.8,360.9 343.3,359.7 343.8,360.0 344.3,361.3 344.8,362.5 345.3,362.9 345.8,361.9 346.3,360.0 346.8,358.8 347.3,359.3 347.8,361.5 348.3,363.9 348.8,364.3 349.3,362.5 349.8,360.8 350.3,360.7 350.8,361.5 351.3,362.5 351.8,363.1 352.3,363.0 352.8,362.9 353.3,363.3 353.8,363.7 354.3,363.7 354.8,363.4 355.3,362.9 355.8,362.6 356.3,362.7 356.8,363.4 357.3,364.3 357.8,364.3 358.3,363.3 358.8,362.6 359.3,362.9 359.8,363.4 360.3,363.6 360.8,363.6 361.3,363.4 361.8,362.6 362.3,361.6 362.8,360.9 363.3,361.3 363.8,362.5 364.3,362.8 364.8,361.4 365.3,360.2 365.8,361.4 366.3,364.3 366.8,366.7 367.3,367.4 367.8,365.9 368.3,363.3 368.8,361.2 369.3,360.5 369.8,360.3 370.3,359.8 370.8,359.4 371.3,359.7 371.8,360.5 372.3,361.1 372.8,361.3 373.3,360.9 373.8,360.1 374.3,359.7 374.8,359.9 375.3,360.3 375.8,360.3 376.3,359.2 376.8,357.3 377.3,355.7 377.8,355.8 378.3,357.8 378.8,360.1 379.3,361.4 379.8,361.2 380.3,359.1 380.8,354.8 381.3,350.4 381.8,349.1 382.3,350.7 382.8,353.4 383.3,355.7 383.8,356.3 384.3,354.7 384.8,352.2 385.3,351.1 385.8,353.0 386.3,357.8 386.8,362.8 387.3,366.1 387.8,367.9 388.3,368.2 388.8,366.7 389.3,365.1 389.8,365.3 390.3,366.9 390.8,367.6 391.3,366.7 391.8,365.7 392.3,366.1 392.8,367.3 393.3,367.6 393.8,365.6 394.3,362.2 394.8,359.8 395.3,359.0 395.8,359.3 396.3,360.9 396.8,363.5 397.3,365.1 397.8,365.3 398.3,365.5 398.8,365.9 399.3,366.0 399.8,365.8 400.3,365.8 400.8,365.2 401.3,362.8 401.8,359.9 402.3,359.0 402.8,360.7 403.3,364.3 403.8,367.3 404.3,367.2 404.8,365.5 405.3,364.6 405.8,364.6 406.3,364.8 406.8,365.0 407.3,364.4 407.8,362.9 408.3,362.1 408.8,362.9 409.3,364.2 409.8,364.8 410.3,364.5 410.8,363.8 411.3,364.1 411.8,365.5 412.3,365.5 412.8,363.2 413.3,361.4 413.8,362.5 414.3,364.2 414.8,364.2 415.3,362.6 415.8,360.8 416.3,360.5 416.8,362.0 417.3,363.2 417.8,362.6 418.3,361.2 418.8,360.0 419.3,359.2 419.8,358.0 420.3,357.0 420.8,357.3 421.3,358.1 421.8,357.7 422.3,356.2 422.8,354.1 423.3,353.1 423.8,354.7 424.3,358.6 424.8,362.8 425.3,365.3 425.8,365.9 426.3,365.9 426.8,365.9 427.3,365.7 427.8,365.2 428.3,364.3 428.8,363.7 429.3,363.5 429.8,362.8 430.3,360.7 430.8,358.9 431.3,359.5 431.8,361.5 432.3,362.8 432.8,363.3 433.3,363.7 433.8,364.2 434.3,364.1 434.8,363.7 435.3,363.9 435.8,364.7 436.3,364.6 436.8,363.0 437.3,360.8 437.8,359.5 438.3,359.7 438.8,361.0 439.3,363.6 439.8,367.0 440.3,368.9 440.8,367.8 441.3,364.5 441.8,361.4 442.3,360.5 442.8,362.8 443.3,366.8 443.8,368.0 444.3,362.8 444.8,354.5 445.3,351.5 445.8,356.0 446.3,361.5 446.8,363.2 447.3,362.6 447.8,363.5 448.3,366.6 448.8,368.6 449.3,367.5 449.8,365.2 450.3,364.0 450.8,363.9 451.3,364.2 451.8,365.4 452.3,366.7 452.8,366.4 453.3,365.0 453.8,364.4 454.3,364.0 454.8,362.8 455.3,361.4 455.8,361.7 456.3,363.1 456.8,364.1 457.3,363.6 457.8,362.1 458.3,361.2 458.8,361.9 459.3,363.6 459.8,364.7 460.3,364.4 460.8,362.9 461.3,361.4 461.8,361.4 462.3,362.3 462.8,361.8 463.3,359.7 463.8,358.4 464.3,359.1 464.8,360.0 465.3,359.0 465.8,357.4 466.3,357.9 466.8,359.6 467.3,361.1 467.8,362.7 468.3,364.3 468.8,364.5 469.3,364.0 469.8,363.9 470.3,364.2 470.8,362.4 471.3,358.0 471.8,354.8 472.3,356.0 472.8,359.2 473.3,361.5 473.8,363.2 474.3,364.9 474.8,366.2 475.3,366.0 475.8,365.0 476.3,364.2 476.8,362.9 477.3,361.1 477.8,359.8 478.3,358.6 478.8,357.6 479.3,358.0 479.8,360.1 480.3,362.1 480.8,362.5 481.3,361.5 481.8,359.7 482.3,357.4 482.8,356.2 483.3,357.7 483.8,360.9 484.3,363.5 484.8,365.2 485.3,366.5 485.8,367.3 486.3,366.7 486.8,365.6 487.3,365.4 487.8,366.3 488.3,366.6 488.8,365.2 489.3,364.2 489.8,365.2 490.3,367.0 490.8,367.4 491.3,366.4 491.8,364.9 492.3,364.0 492.8,364.0 493.3,364.2 493.8,364.5 494.3,364.7 494.8,363.7 495.3,362.2 495.8,361.6 496.3,361.7 496.8,362.6 497.3,365.4 497.8,369.4 498.3,372.4 498.8,371.7 499.3,367.3 499.8,362.8 500.3,361.0 500.8,361.0 501.3,361.1 501.8,360.2 502.3,358.7 502.8,358.0 503.3,359.1 503.8,362.0 504.3,365.0 504.8,366.8 505.3,367.2 505.8,367.3 506.3,366.8 506.8,365.7 507.3,364.5 507.8,363.3 508.3,362.8 508.8,363.5 509.3,363.0 509.8,360.9 510.3,359.5 510.8,359.7 511.3,359.8 511.8,359.3 512.3,359.0 512.8,359.1 513.3,359.6 513.8,358.7 514.3,352.7 514.8,340.7 515.3,332.3 515.8,336.2 516.3,345.6 516.8,351.8 517.3,356.3 517.8,362.4 518.3,368.9 518.8,371.0 519.3,368.3 519.8,365.4 520.3,364.4 520.8,363.9 521.3,362.8 521.8,361.3 522.3,360.3 522.8,360.1 523.3,360.9 523.8,361.9 524.3,361.6 524.8,360.4 525.3,359.6 525.8,358.4 526.3,355.9 526.8,354.4 527.3,356.0 527.8,359.1 528.3,360.6 528.8,360.5 529.3,361.0 529.8,362.9 530.3,363.9 530.8,362.2 531.3,358.4 531.8,353.7 532.3,350.5 532.8,351.1 533.3,354.2 533.8,355.3 534.3,353.2 534.8,351.3 535.3,351.8 535.8,352.5 536.3,352.5 536.8,352.4 537.3,351.4 537.8,349.8 538.3,349.9 538.8,354.2 539.3,361.7 539.8,367.7 540.3,367.8 540.8,363.6 541.3,360.1 541.8,359.4 542.3,360.4 542.8,361.8 543.3,362.2 543.8,361.6 544.3,360.7 544.8,359.9 545.3,358.7 545.8,356.4 546.3,353.8 546.8,353.4 547.3,355.6 547.8,358.4 548.3,358.9 548.8,356.7 549.3,354.8 549.8,355.7 550.3,357.9 550.8,359.3 551.3,359.6 551.8,359.3 552.3,359.5 552.8,360.9 553.3,362.0 553.8,362.2 554.3,361.7 554.8,360.7 555.3,360.4 555.8,362.2 556.3,364.8 556.8,365.7 557.3,365.4 557.8,365.8 558.3,367.5 558.8,369.0 559.3,367.6 559.8,363.3 560.3,359.6 560.8,359.0 561.3,361.5 561.8,364.9 562.3,366.6 562.8,365.3 563.3,361.8 563.8,357.8 564.3,354.5 564.8,351.3 565.3,348.2 565.8,347.2 566.3,348.7 566.8,350.7 567.3,351.9 567.8,353.4 568.3,356.1 568.8,359.0 569.3,360.9 569.8,361.5 570.3,361.2 570.8,360.4 571.3,360.0 571.8,360.8 572.3,362.0 572.8,362.3 573.3,362.7 573.8,364.3 574.3,365.9 574.8,365.5 575.3,363.8 575.8,362.1 576.3,358.7 576.8,352.4 577.3,348.2 577.8,351.3 578.3,358.7 578.8,364.0 579.3,365.2 579.8,364.6 580.3,363.4 580.8,361.7 581.3,359.9 581.8,359.3 582.3,360.2 582.8,361.2 583.3,361.2 583.8,360.5 584.3,359.7 584.8,359.3 585.3,360.3 585.8,362.2 586.3,362.6 586.8,360.5 587.3,357.1 587.8,354.8 588.3,355.1 588.8,356.3 589.3,356.1 589.8,355.1 590.3,355.2 590.8,355.6 591.3,354.9 591.8,353.5 592.3,353.2 592.8,354.0 593.3,354.9 593.8,355.5 594.3,356.0 594.8,356.7 595.3,357.9 595.8,359.0 596.3,359.1 596.8,358.9 597.3,359.7 597.8,361.6 598.3,363.9 598.8,365.6 599.3,366.5 599.8,365.8 600.3,363.5 600.8,360.2 601.3,357.3 601.8,355.9 602.3,356.5 602.8,358.9 603.3,361.1 603.8,361.5 604.3,361.0 604.8,361.1 605.3,361.8 605.8,363.2 606.3,364.9 606.8,365.3 607.3,363.7 607.8,361.8 608.3,361.4 608.8,363.1 609.3,366.0 609.8,367.8 610.3,367.6 610.8,366.4 611.3,365.0 611.8,363.1 612.3,361.5 612.8,361.2 613.3,361.6 613.8,361.8 614.3,361.2 614.8,360.3 615.3,359.9 615.8,360.8 616.3,362.6 616.8,363.6 617.3,362.3 617.8,359.7 618.3,358.4 618.8,359.3 619.3,361.5 619.8,363.6 620.3,364.7 620.8,363.5 621.3,360.9 621.8,360.1 622.3,362.1 622.8,364.5 623.3,365.7 623.8,366.0 624.3,365.9 624.8,364.3 625.3,361.2 625.8,358.9 626.3,358.1 626.8,357.6 627.3,357.3 627.8,357.7 628.3,357.5 628.8,355.6 629.3,354.1 629.8,354.5 630.3,356.9 630.8,359.4 631.3,359.3 631.8,356.1 632.3,353.1 632.8,353.3 633.3,356.7 633.8,360.7 634.3,362.6 634.8,362.4 635.3,361.6 635.8,361.3 636.3,361.5 636.8,361.5 637.3,361.1 637.8,360.8 638.3,361.0 638.8,361.0 639.3,360.2 639.8,358.5 640.3,357.2 640.8,356.7 641.3,356.9 641.8,357.2 642.3,356.8 642.8,356.6 643.3,357.2 643.8,358.0 644.3,358.3 644.8,358.4 645.3,358.7 645.8,359.4 646.3,360.4 646.8,361.0 647.3,360.7 647.8,359.7 648.3,357.8 648.8,354.2 649.3,349.6 649.8,346.5 650.3,347.4 650.8,350.7 651.3,353.5 651.8,355.5 652.3,358.2 652.8,360.5 653.3,361.3 653.8,361.4 654.3,362.8 654.8,365.1 655.3,365.3 655.8,362.3 656.3,358.5 656.8,356.0 657.3,355.1 657.8,355.2 658.3,353.4 658.8,349.4 659.3,350.3 659.8,356.7 660.3,361.4 660.8,361.9 661.3,359.8 661.8,357.3 662.3,356.4 662.8,357.3" fill="none" stroke="#62a046" stroke-width="1.05" stroke-linejoin="round"/><polyline points="116.3,361.9 116.8,360.6 117.3,359.9 117.8,360.7 118.3,361.4 118.8,360.8 119.3,359.8 119.8,360.0 120.3,361.6 120.8,362.7 121.3,362.4 121.8,361.8 122.3,361.6 122.8,361.9 123.3,362.2 123.8,361.8 124.3,361.5 124.8,362.0 125.3,362.8 125.8,363.6 126.3,364.1 126.8,364.0 127.3,364.2 127.8,365.5 128.3,366.8 128.8,366.7 129.3,366.5 129.8,366.5 130.3,365.4 130.8,363.5 131.3,363.0 131.8,364.2 132.3,365.6 132.8,366.7 133.3,366.8 133.8,364.8 134.3,361.3 134.8,359.2 135.3,359.8 135.8,361.1 136.3,361.0 136.8,359.9 137.3,360.2 137.8,362.5 138.3,364.8 138.8,365.9 139.3,365.7 139.8,364.2 140.3,362.4 140.8,360.6 141.3,359.3 141.8,358.7 142.3,358.5 142.8,358.4 143.3,358.8 143.8,359.3 144.3,360.0 144.8,362.6 145.3,366.3 145.8,367.8 146.3,366.6 146.8,365.0 147.3,364.2 147.8,362.9 148.3,360.5 148.8,358.0 149.3,356.7 149.8,357.7 150.3,359.8 150.8,361.0 151.3,360.6 151.8,359.7 152.3,359.2 152.8,358.7 153.3,358.4 153.8,358.7 154.3,358.1 154.8,355.7 155.3,354.1 155.8,355.4 156.3,357.8 156.8,359.1 157.3,359.0 157.8,358.6 158.3,359.8 158.8,362.3 159.3,363.7 159.8,362.6 160.3,360.2 160.8,358.7 161.3,359.9 161.8,361.7 162.3,361.8 162.8,360.1 163.3,358.5 163.8,358.2 164.3,359.6 164.8,362.1 165.3,364.8 165.8,366.5 166.3,366.5 166.8,364.8 167.3,363.1 167.8,363.7 168.3,366.2 168.8,367.7 169.3,366.3 169.8,364.0 170.3,361.8 170.8,359.5 171.3,357.2 171.8,355.5 172.3,354.5 172.8,354.7 173.3,356.5 173.8,357.6 174.3,356.9 174.8,357.4 175.3,360.2 175.8,362.4 176.3,363.3 176.8,364.5 177.3,365.8 177.8,365.5 178.3,363.4 178.8,361.8 179.3,362.0 179.8,362.7 180.3,362.9 180.8,363.6 181.3,365.2 181.8,365.3 182.3,363.6 182.8,361.8 183.3,361.0 183.8,360.0 184.3,358.5 184.8,357.8 185.3,359.1 185.8,361.8 186.3,364.5 186.8,366.4 187.3,367.0 187.8,365.9 188.3,364.2 188.8,362.5 189.3,361.5 189.8,361.1 190.3,360.8 190.8,360.3 191.3,360.7 191.8,362.4 192.3,364.0 192.8,364.0 193.3,361.7 193.8,358.5 194.3,357.0 194.8,358.0 195.3,360.5 195.8,362.6 196.3,362.4 196.8,360.1 197.3,358.1 197.8,358.3 198.3,360.1 198.8,361.6 199.3,362.1 199.8,362.9 200.3,364.9 200.8,366.2 201.3,364.9 201.8,361.5 202.3,358.3 202.8,357.1 203.3,358.5 203.8,361.7 204.3,364.8 204.8,366.1 205.3,365.5 205.8,363.7 206.3,362.0 206.8,361.1 207.3,361.2 207.8,362.1 208.3,363.3 208.8,363.3 209.3,361.8 209.8,360.8 210.3,361.6 210.8,363.5 211.3,364.2 211.8,362.9 212.3,361.9 212.8,362.8 213.3,364.3 213.8,364.5 214.3,363.5 214.8,362.1 215.3,360.5 215.8,358.5 216.3,357.2 216.8,357.4 217.3,357.2 217.8,355.2 218.3,353.0 218.8,353.0 219.3,355.1 219.8,357.5 220.3,359.4 220.8,361.3 221.3,364.4 221.8,367.6 222.3,369.3 222.8,369.2 223.3,366.3 223.8,360.9 224.3,356.6 224.8,356.3 225.3,359.0 225.8,362.1 226.3,364.7 226.8,367.0 227.3,369.6 227.8,371.6 228.3,371.5 228.8,369.2 229.3,367.0 229.8,366.0 230.3,364.6 230.8,360.8 231.3,355.8 231.8,354.3 232.3,357.4 232.8,361.8 233.3,365.1 233.8,366.6 234.3,366.5 234.8,365.4 235.3,363.8 235.8,362.7 236.3,362.9 236.8,363.6 237.3,363.3 237.8,361.7 238.3,359.4 238.8,356.7 239.3,353.7 239.8,351.3 240.3,347.2 240.8,340.8 241.3,339.2 241.8,346.5 242.3,356.2 242.8,361.5 243.3,361.3 243.8,358.9 244.3,358.5 244.8,359.9 245.3,361.4 245.8,363.2 246.3,365.2 246.8,365.0 247.3,363.4 247.8,363.2 248.3,364.4 248.8,364.9 249.3,363.2 249.8,360.6 250.3,359.7 250.8,360.0 251.3,360.3 251.8,359.6 252.3,355.5 252.8,349.6 253.3,349.2 253.8,355.6 254.3,363.9 254.8,370.5 255.3,373.1 255.8,370.5 256.3,364.5 256.8,359.1 257.3,356.0 257.8,354.9 258.3,355.1 258.8,355.5 259.3,356.4 259.8,358.6 260.3,360.5 260.8,360.8 261.3,360.7 261.8,361.1 262.3,361.4 262.8,361.5 263.3,361.7 263.8,362.4 264.3,364.7 264.8,368.3 265.3,370.7 265.8,370.7 266.3,366.3 266.8,355.7 267.3,344.2 267.8,341.0 268.3,344.1 268.8,345.0 269.3,346.0 269.8,352.9 270.3,361.3 270.8,364.2 271.3,361.5 271.8,358.0 272.3,357.3 272.8,358.0 273.3,358.0 273.8,358.5 274.3,361.4 274.8,363.8 275.3,363.6 275.8,362.7 276.3,364.2 276.8,367.4 277.3,368.5 277.8,366.6 278.3,365.7 278.8,368.9 279.3,373.8 279.8,376.2 280.3,375.4 280.8,373.4 281.3,371.8 281.8,370.9 282.3,370.0 282.8,368.2 283.3,366.0 283.8,364.3 284.3,363.2 284.8,362.8 285.3,363.0 285.8,362.3 286.3,360.4 286.8,359.3 287.3,360.1 287.8,362.4 288.3,365.0 288.8,365.8 289.3,361.8 289.8,351.3 290.3,338.3 290.8,330.7 291.3,333.1 291.8,342.8 292.3,353.8 292.8,360.9 293.3,361.8 293.8,358.2 294.3,353.6 294.8,351.0 295.3,352.7 295.8,356.5 296.3,357.3 296.8,353.7 297.3,350.0 297.8,349.9 298.3,353.3 298.8,357.6 299.3,361.0 299.8,363.1 300.3,364.8 300.8,366.0 301.3,365.9 301.8,364.6 302.3,363.0 302.8,362.2 303.3,362.5 303.8,363.5 304.3,363.1 304.8,359.9 305.3,355.7 305.8,353.3 306.3,353.3 306.8,355.2 307.3,357.6 307.8,358.6 308.3,358.0 308.8,357.0 309.3,357.1 309.8,358.5 310.3,359.7 310.8,359.5 311.3,358.3 311.8,357.2 312.3,357.3 312.8,359.6 313.3,362.3 313.8,362.8 314.3,360.8 314.8,358.5 315.3,358.1 315.8,359.9 316.3,362.2 316.8,363.1 317.3,362.2 317.8,360.8 318.3,359.7 318.8,359.6 319.3,360.2 319.8,360.6 320.3,360.7 320.8,360.5 321.3,359.3 321.8,357.7 322.3,357.6 322.8,360.5 323.3,364.8 323.8,367.9 324.3,368.6 324.8,368.3 325.3,369.1 325.8,370.8 326.3,372.2 326.8,373.5 327.3,374.6 327.8,374.5 328.3,373.2 328.8,371.6 329.3,370.0 329.8,367.3 330.3,363.5 330.8,361.3 331.3,361.4 331.8,362.5 332.3,364.2 332.8,366.5 333.3,367.6 333.8,365.9 334.3,362.5 334.8,360.4 335.3,360.7 335.8,361.7 336.3,362.0 336.8,361.9 337.3,362.5 337.8,363.3 338.3,362.4 338.8,360.3 339.3,358.7 339.8,358.5 340.3,359.3 340.8,360.7 341.3,361.9 341.8,361.5 342.3,359.0 342.8,356.1 343.3,355.2 343.8,356.8 344.3,358.9 344.8,360.5 345.3,361.7 345.8,362.1 346.3,361.9 346.8,362.2 347.3,363.4 347.8,364.6 348.3,365.2 348.8,365.5 349.3,365.4 349.8,365.0 350.3,364.9 350.8,364.5 351.3,363.7 351.8,363.0 352.3,362.1 352.8,360.6 353.3,359.5 353.8,359.6 354.3,360.6 354.8,361.5 355.3,361.2 355.8,360.8 356.3,361.3 356.8,362.8 357.3,364.2 357.8,364.3 358.3,363.1 358.8,362.0 359.3,361.8 359.8,362.1 360.3,362.0 360.8,361.8 361.3,361.7 361.8,360.7 362.3,359.2 362.8,358.7 363.3,360.1 363.8,361.5 364.3,361.0 364.8,359.0 365.3,358.0 365.8,359.1 366.3,361.4 366.8,363.3 367.3,363.4 367.8,362.0 368.3,360.4 368.8,359.1 369.3,358.2 369.8,358.1 370.3,358.8 370.8,359.4 371.3,359.7 371.8,360.1 372.3,360.6 372.8,360.8 373.3,360.4 373.8,359.9 374.3,359.6 374.8,359.7 375.3,360.5 375.8,361.3 376.3,360.7 376.8,358.8 377.3,356.4 377.8,354.5 378.3,355.2 378.8,358.5 379.3,361.4 379.8,361.2 380.3,357.4 380.8,352.1 381.3,348.0 381.8,346.3 382.3,346.9 382.8,349.3 383.3,352.6 383.8,354.6 384.3,353.9 384.8,351.6 385.3,350.4 385.8,352.4 386.3,357.0 386.8,361.5 387.3,364.6 387.8,365.8 388.3,364.7 388.8,362.4 389.3,361.9 389.8,363.9 390.3,366.2 390.8,367.1 391.3,366.7 391.8,365.7 392.3,364.5 392.8,363.8 393.3,363.5 393.8,362.5 394.3,360.7 394.8,359.3 395.3,358.7 395.8,358.7 396.3,359.7 396.8,361.7 397.3,363.5 397.8,364.2 398.3,364.1 398.8,363.7 399.3,363.1 399.8,362.7 400.3,362.2 400.8,361.8 401.3,361.2 401.8,360.3 402.3,359.4 402.8,359.3 403.3,360.2 403.8,361.3 404.3,361.8 404.8,361.6 405.3,360.5 405.8,358.8 406.3,358.1 406.8,358.8 407.3,359.2 407.8,358.5 408.3,358.2 408.8,360.0 409.3,363.1 409.8,366.1 410.3,368.0 410.8,368.4 411.3,367.9 411.8,367.2 412.3,365.7 412.8,362.9 413.3,360.7 413.8,360.5 414.3,361.1 414.8,361.4 415.3,360.9 415.8,359.3 416.3,357.8 416.8,358.0 417.3,360.2 417.8,362.5 418.3,363.1 418.8,361.8 419.3,360.6 419.8,360.8 420.3,362.3 420.8,364.1 421.3,364.5 421.8,363.0 422.3,360.7 422.8,359.0 423.3,358.9 423.8,360.7 424.3,363.8 424.8,366.8 425.3,367.5 425.8,366.2 426.3,365.7 426.8,366.4 427.3,366.9 427.8,366.3 428.3,365.0 428.8,364.7 429.3,366.4 429.8,367.9 430.3,367.6 430.8,366.6 431.3,366.1 431.8,365.6 432.3,364.6 432.8,363.7 433.3,363.5 433.8,363.6 434.3,363.4 434.8,363.0 435.3,362.6 435.8,362.6 436.3,362.7 436.8,361.9 437.3,359.9 437.8,358.2 438.3,357.6 438.8,358.1 439.3,359.9 439.8,362.6 440.3,364.1 440.8,363.8 441.3,361.6 441.8,358.1 442.3,355.7 442.8,356.8 443.3,360.6 443.8,362.7 444.3,359.3 444.8,352.8 445.3,350.4 445.8,354.1 446.3,359.2 446.8,361.8 447.3,362.4 447.8,363.3 448.3,364.8 448.8,364.9 449.3,363.3 449.8,362.1 450.3,361.8 450.8,361.7 451.3,362.2 451.8,364.4 452.3,367.5 452.8,370.3 453.3,371.5 453.8,369.9 454.3,366.1 454.8,363.1 455.3,362.3 455.8,362.0 456.3,361.6 456.8,362.2 457.3,362.8 457.8,362.4 458.3,361.9 458.8,362.5 459.3,363.7 459.8,364.3 460.3,364.1 460.8,363.4 461.3,362.6 461.8,362.3 462.3,362.1 462.8,361.8 463.3,361.8 463.8,362.1 464.3,362.1 464.8,361.2 465.3,358.8 465.8,357.0 466.3,357.4 466.8,358.5 467.3,358.8 467.8,359.1 468.3,359.9 468.8,360.7 469.3,361.5 469.8,361.8 470.3,360.0 470.8,355.9 471.3,351.1 471.8,349.6 472.3,353.0 472.8,357.9 473.3,360.7 473.8,361.4 474.3,360.9 474.8,360.0 475.3,358.9 475.8,359.1 476.3,360.8 476.8,361.9 477.3,361.5 477.8,360.8 478.3,361.0 478.8,361.2 479.3,360.6 479.8,360.5 480.3,360.7 480.8,360.0 481.3,358.3 481.8,357.3 482.3,356.9 482.8,357.3 483.3,359.0 483.8,361.2 484.3,363.0 484.8,364.9 485.3,366.8 485.8,367.6 486.3,366.5 486.8,364.7 487.3,364.1 487.8,364.3 488.3,363.9 488.8,363.1 489.3,362.8 489.8,363.6 490.3,364.5 490.8,364.5 491.3,363.8 491.8,363.4 492.3,363.3 492.8,363.3 493.3,363.2 493.8,363.5 494.3,364.1 494.8,363.9 495.3,363.1 495.8,362.9 496.3,363.3 496.8,364.3 497.3,367.3 497.8,371.5 498.3,374.0 498.8,372.9 499.3,368.9 499.8,364.3 500.3,361.8 500.8,361.7 501.3,362.6 501.8,362.3 502.3,360.2 502.8,358.5 503.3,358.8 503.8,361.4 504.3,365.8 504.8,370.4 505.3,372.8 505.8,372.4 506.3,370.4 506.8,368.4 507.3,366.7 507.8,365.1 508.3,364.2 508.8,364.0 509.3,363.2 509.8,362.0 510.3,362.3 510.8,363.6 511.3,364.0 511.8,362.6 512.3,360.7 512.8,360.2 513.3,360.7 513.8,361.2 514.3,361.8 514.8,362.5 515.3,361.5 515.8,356.0 516.3,345.3 516.8,335.9 517.3,337.8 517.8,351.0 518.3,364.4 518.8,369.4 519.3,367.3 519.8,364.0 520.3,361.7 520.8,360.3 521.3,360.2 521.8,360.9 522.3,361.3 522.8,361.1 523.3,360.5 523.8,359.2 524.3,357.8 524.8,358.3 525.3,361.3 525.8,363.5 526.3,362.0 526.8,359.1 527.3,357.4 527.8,356.1 528.3,354.1 528.8,351.8 529.3,350.7 529.8,351.7 530.3,354.4 530.8,357.4 531.3,359.1 531.8,358.3 532.3,356.2 532.8,354.0 533.3,352.0 533.8,349.5 534.3,347.5 534.8,347.5 535.3,348.8 535.8,350.3 536.3,352.5 536.8,355.6 537.3,357.0 537.8,356.2 538.3,355.7 538.8,357.3 539.3,359.7 539.8,361.3 540.3,361.2 540.8,360.3 541.3,359.1 541.8,357.4 542.3,356.9 542.8,358.9 543.3,361.8 543.8,363.0 544.3,362.8 544.8,362.8 545.3,363.0 545.8,361.5 546.3,358.8 546.8,357.3 547.3,358.3 547.8,360.9 548.3,362.5 548.8,362.4 549.3,362.6 549.8,364.2 550.3,365.4 550.8,364.5 551.3,362.1 551.8,360.4 552.3,360.7 552.8,362.4 553.3,363.6 553.8,363.8 554.3,363.5 554.8,362.8 555.3,362.6 555.8,364.0 556.3,366.9 556.8,369.0 557.3,369.1 557.8,367.4 558.3,364.8 558.8,361.8 559.3,359.1 559.8,357.8 560.3,358.9 560.8,361.5 561.3,364.4 561.8,367.0 562.3,367.9 562.8,365.8 563.3,362.3 563.8,359.4 564.3,357.1 564.8,353.7 565.3,349.2 565.8,346.6 566.3,347.7 566.8,350.2 567.3,352.4 567.8,354.9 568.3,358.4 568.8,362.0 569.3,363.7 569.8,362.4 570.3,359.4 570.8,357.0 571.3,356.7 571.8,358.3 572.3,360.1 572.8,361.6 573.3,362.9 573.8,363.8 574.3,363.5 574.8,362.2 575.3,361.4 575.8,360.3 576.3,354.4 576.8,341.3 577.3,328.7 577.8,329.5 578.3,345.1 578.8,364.6 579.3,376.8 579.8,377.8 580.3,372.2 580.8,365.6 581.3,360.2 581.8,357.1 582.3,356.7 582.8,358.2 583.3,359.8 583.8,360.1 584.3,358.3 584.8,355.5 585.3,353.3 585.8,351.9 586.3,351.7 586.8,353.1 587.3,355.0 587.8,356.1 588.3,356.6 588.8,356.8 589.3,356.2 589.8,354.7 590.3,352.8 590.8,350.9 591.3,349.4 591.8,348.7 592.3,349.2 592.8,351.1 593.3,353.4 593.8,355.2 594.3,356.4 594.8,357.3 595.3,358.0 595.8,358.3 596.3,358.4 596.8,358.6 597.3,359.1 597.8,360.3 598.3,361.6 598.8,362.7 599.3,363.0 599.8,362.6 600.3,361.8 600.8,361.0 601.3,360.4 601.8,359.5 602.3,358.4 602.8,358.5 603.3,360.4 603.8,362.2 604.3,363.1 604.8,363.8 605.3,364.8 605.8,366.3 606.3,368.0 606.8,368.8 607.3,367.4 607.8,364.7 608.3,363.5 608.8,365.3 609.3,368.6 609.8,369.9 610.3,368.2 610.8,365.6 611.3,364.0 611.8,363.5 612.3,363.7 612.8,364.2 613.3,363.9 613.8,362.5 614.3,360.6 614.8,358.5 615.3,357.4 615.8,358.1 616.3,359.9 616.8,361.6 617.3,362.4 617.8,362.9 618.3,364.1 618.8,365.6 619.3,366.6 619.8,366.6 620.3,365.5 620.8,362.3 621.3,358.5 621.8,357.5 622.3,359.6 622.8,361.5 623.3,361.8 623.8,362.1 624.3,363.0 624.8,363.3 625.3,362.8 625.8,362.2 626.3,361.1 626.8,359.9 627.3,360.1 627.8,361.5 628.3,361.7 628.8,359.2 629.3,356.1 629.8,355.5 630.3,357.8 630.8,360.4 631.3,359.9 631.8,356.9 632.3,355.4 632.8,357.6 633.3,361.8 633.8,365.2 634.3,365.8 634.8,364.1 635.3,362.1 635.8,360.8 636.3,360.1 636.8,359.9 637.3,360.2 637.8,361.0 638.3,361.3 638.8,359.8 639.3,357.4 639.8,355.8 640.3,355.7 640.8,356.3 641.3,357.5 641.8,359.6 642.3,361.1 642.8,360.8 643.3,360.6 643.8,361.8 644.3,363.0 644.8,362.0 645.3,359.8 645.8,359.5 646.3,361.2 646.8,362.3 647.3,362.1 647.8,361.9 648.3,361.4 648.8,358.6 649.3,353.4 649.8,347.8 650.3,345.6 650.8,347.2 651.3,349.9 651.8,352.9 652.3,356.1 652.8,358.6 653.3,359.4 653.8,359.7 654.3,361.8 654.8,365.4 655.3,366.5 655.8,363.3 656.3,359.4 656.8,357.2 657.3,356.1 657.8,354.8 658.3,351.6 658.8,348.6 659.3,351.7 659.8,359.5 660.3,364.5 660.8,363.8 661.3,359.7 661.8,358.2 662.3,359.8 662.8,360.4" fill="none" stroke="#3f4a9b" stroke-width="1.05" stroke-linejoin="round"/><g stroke="#62a046" stroke-width="1.9" fill="none"><polyline points="126.2,211.2 128.0,214.9 129.8,217.6 131.7,219.5 133.5,220.7 135.3,221.2 137.2,221.1 139.0,220.5 140.8,219.6 142.6,218.3 144.4,216.8 146.3,215.1 148.1,213.4 149.9,211.7 151.8,210.1 153.6,208.7 155.4,207.4 157.2,206.3 159.1,205.4 160.9,204.8 162.7,204.7 164.5,204.9 166.3,205.8 168.2,207.2 170.0,209.4 171.8,212.4 173.7,216.0 175.5,220.2 177.3,224.7 179.1,229.5 180.9,234.4 182.8,239.3 184.6,243.9 186.4,248.3 188.2,252.1 190.1,255.3 191.9,257.7 193.7,259.2 195.6,259.9 197.4,260.2 199.2,260.1 201.0,259.9 202.8,259.8 204.7,260.0 206.5,260.4 208.3,260.9 210.1,261.4 212.0,261.7 213.8,261.7 215.6,261.3 217.4,260.7 219.3,259.7 221.1,258.7 222.9,257.5 224.8,256.4 226.6,255.4 228.4,254.3 230.2,253.0 232.0,251.4 233.9,249.3 235.7,246.6 237.5,243.1 239.3,238.6 241.2,232.9 243.0,225.8 244.8,217.1 246.6,206.5 248.5,194.1 250.3,181.2 252.1,169.0 253.9,159.1 255.8,152.8 257.6,151.7 259.4,156.6 261.2,166.3 263.1,179.0 264.9,193.0 266.7,206.5 268.6,217.9 270.4,225.7 272.2,230.4 274.0,232.5 275.8,233.0 277.7,232.6 279.5,232.0 281.3,231.8 283.1,232.2 285.0,232.9 286.8,234.0 288.6,235.4 290.4,237.0 292.3,238.7 294.1,240.5 295.9,242.3 297.8,244.0 299.6,245.6 301.4,247.1 303.2,248.4 305.0,249.4 306.9,250.3 308.7,251.1 310.5,251.8 312.3,252.4 314.2,253.0 316.0,253.4 317.8,253.6 319.6,253.4 321.5,252.8 323.3,251.6 325.1,249.8 326.9,247.4 328.8,244.6 330.6,241.3 332.4,237.7 334.2,233.8 336.1,229.8 337.9,225.8 339.7,222.1 341.5,218.8 343.4,216.2 345.2,214.4 347.0,213.6 348.8,213.7 350.7,214.4 352.5,215.7 354.3,217.4 356.1,219.2 358.0,221.1 359.8,223.0 361.6,225.1 363.4,227.3 365.3,229.7 367.1,232.5 368.9,235.6 370.8,238.8 372.6,242.2 374.4,245.4 376.2,248.5 378.1,251.1 379.9,253.3 381.7,254.9 383.5,256.2 385.3,257.0 387.2,257.5 389.0,257.7 390.8,257.6 392.6,257.2 394.5,256.6 396.3,255.8 398.1,254.8 399.9,253.7 401.8,252.4 403.6,251.1 405.4,249.6 407.2,248.1 409.1,246.7 410.9,245.2 412.7,243.8 414.5,242.5 416.4,241.4 418.2,240.5 420.0,239.9 421.8,239.7 423.7,239.8 425.5,240.1 427.3,240.4 429.1,240.5 431.0,240.1 432.8,239.1 434.6,237.3 436.4,234.9 438.3,232.2 440.1,229.4 441.9,226.7 443.7,224.5 445.6,222.9 447.4,221.5 449.2,220.2 451.0,218.5 452.9,216.1 454.7,212.6 456.5,207.8 458.3,201.7 460.2,194.4 462.0,186.2 463.8,177.1 465.6,167.4 467.5,157.3 469.3,147.5 471.1,139.2 472.9,133.2 474.8,130.5 476.6,132.1 478.4,138.5 480.2,148.8 482.1,161.7 483.9,175.6 485.7,189.3 487.5,201.4 489.4,210.8 491.2,217.7 493.0,222.5 494.8,225.6 496.7,227.5 498.5,228.5 500.3,229.1 502.1,229.4 504.0,229.5 505.8,229.6 507.6,229.6 509.4,229.8 511.3,230.2 513.1,230.6 514.9,230.9 516.8,231.0 518.6,230.7 520.4,229.8 522.2,228.3 524.0,226.8 525.9,226.0 527.7,226.4 529.5,227.8 531.4,229.8 533.2,231.9 535.0,234.1 536.8,236.3 538.6,238.3 540.5,240.0 542.3,241.5 544.1,242.6 545.9,243.3 547.8,243.8 549.6,244.0 551.4,244.1 553.2,244.0 555.1,243.9 556.9,243.8 558.7,243.7 560.5,243.8 562.4,244.2 564.2,244.8 566.0,245.7 567.8,246.9 569.7,248.1 571.5,249.2 573.3,250.0 575.1,250.5 577.0,250.5 578.8,250.0 580.6,249.3 582.4,248.5 584.3,247.7 586.1,247.1 587.9,246.8 589.7,246.6 591.6,246.5 593.4,246.3 595.2,245.9 597.0,245.2 598.9,244.0 600.7,242.5 602.5,240.9 604.3,239.2 606.2,237.7 608.0,236.5 609.8,235.7 611.6,235.3 613.5,235.2 615.3,235.1 617.1,234.9 618.9,234.6 620.8,234.0 622.6,233.2 624.4,232.3 626.2,231.4 628.1,230.5 629.9,229.8 631.7,229.3 633.5,229.1 635.4,228.9 637.2,228.8 639.0,228.7 640.9,228.5 642.7,228.1 644.5,227.6 646.3,227.1 648.1,226.6 650.0,226.2 651.8,225.9 653.6,225.9 655.4,226.1 657.3,226.7 659.1,227.7 660.9,229.2 662.8,231.2" fill="none" stroke-linejoin="round"/><rect x="121.2" y="206.2" width="9.9" height="9.9"/><rect x="132.2" y="216.2" width="9.9" height="9.9"/><rect x="143.2" y="208.5" width="9.9" height="9.9"/><rect x="154.1" y="200.5" width="9.9" height="9.9"/><rect x="165.1" y="204.5" width="9.9" height="9.9"/><rect x="176.0" y="229.5" width="9.9" height="9.9"/><rect x="186.9" y="252.8" width="9.9" height="9.9"/><rect x="197.9" y="254.9" width="9.9" height="9.9"/><rect x="208.9" y="256.8" width="9.9" height="9.9"/><rect x="219.8" y="251.4" width="9.9" height="9.9"/><rect x="230.8" y="241.7" width="9.9" height="9.9"/><rect x="241.7" y="201.6" width="9.9" height="9.9"/><rect x="252.6" y="146.8" width="9.9" height="9.9"/><rect x="263.6" y="213.0" width="9.9" height="9.9"/><rect x="274.6" y="227.1" width="9.9" height="9.9"/><rect x="285.5" y="232.1" width="9.9" height="9.9"/><rect x="296.4" y="242.2" width="9.9" height="9.9"/><rect x="307.4" y="247.5" width="9.9" height="9.9"/><rect x="318.4" y="246.7" width="9.9" height="9.9"/><rect x="329.3" y="228.9" width="9.9" height="9.9"/><rect x="340.2" y="209.5" width="9.9" height="9.9"/><rect x="351.2" y="214.2" width="9.9" height="9.9"/><rect x="362.1" y="227.6" width="9.9" height="9.9"/><rect x="373.1" y="246.2" width="9.9" height="9.9"/><rect x="384.0" y="252.8" width="9.9" height="9.9"/><rect x="395.0" y="248.8" width="9.9" height="9.9"/><rect x="405.9" y="240.2" width="9.9" height="9.9"/><rect x="416.9" y="234.8" width="9.9" height="9.9"/><rect x="427.8" y="234.2" width="9.9" height="9.9"/><rect x="438.8" y="219.6" width="9.9" height="9.9"/><rect x="449.8" y="207.7" width="9.9" height="9.9"/><rect x="460.7" y="162.5" width="9.9" height="9.9"/><rect x="471.6" y="127.1" width="9.9" height="9.9"/><rect x="482.6" y="196.5" width="9.9" height="9.9"/><rect x="493.5" y="223.6" width="9.9" height="9.9"/><rect x="504.5" y="224.9" width="9.9" height="9.9"/><rect x="515.4" y="224.9" width="9.9" height="9.9"/><rect x="526.4" y="224.9" width="9.9" height="9.9"/><rect x="537.3" y="236.6" width="9.9" height="9.9"/><rect x="548.3" y="239.1" width="9.9" height="9.9"/><rect x="559.2" y="239.9" width="9.9" height="9.9"/><rect x="570.2" y="245.6" width="9.9" height="9.9"/><rect x="581.1" y="242.2" width="9.9" height="9.9"/><rect x="592.1" y="240.2" width="9.9" height="9.9"/><rect x="603.0" y="231.6" width="9.9" height="9.9"/><rect x="614.0" y="229.7" width="9.9" height="9.9"/><rect x="624.9" y="224.9" width="9.9" height="9.9"/><rect x="635.9" y="223.6" width="9.9" height="9.9"/><rect x="646.8" y="221.0" width="9.9" height="9.9"/><rect x="657.8" y="226.2" width="9.9" height="9.9"/></g><g stroke="#3f4a9b" stroke-width="1.9" fill="none"><polyline points="126.2,188.9 128.0,184.5 129.8,181.8 131.7,180.4 133.5,180.2 135.3,180.8 137.2,182.0 139.0,183.6 140.8,185.3 142.6,186.8 144.4,187.9 146.3,188.4 148.1,187.9 149.9,186.4 151.8,184.1 153.6,181.4 155.4,178.8 157.2,176.7 159.1,175.4 160.9,175.3 162.7,176.2 164.5,177.8 166.3,179.7 168.2,181.7 170.0,183.4 171.8,184.6 173.7,185.5 175.5,186.1 177.3,186.7 179.1,187.5 180.9,188.7 182.8,190.4 184.6,192.5 186.4,194.9 188.2,197.5 190.1,200.1 191.9,202.7 193.7,205.1 195.6,207.3 197.4,209.4 199.2,211.4 201.0,213.3 202.8,215.2 204.7,217.0 206.5,218.8 208.3,220.5 210.1,222.0 212.0,223.4 213.8,224.5 215.6,225.4 217.4,226.0 219.3,226.6 221.1,227.1 222.9,227.7 224.8,228.5 226.6,229.5 228.4,230.6 230.2,231.7 232.0,232.8 233.9,233.7 235.7,234.4 237.5,234.8 239.3,234.9 241.2,235.0 243.0,235.2 244.8,235.7 246.6,236.5 248.5,237.8 250.3,239.3 252.1,240.7 253.9,241.7 255.8,242.0 257.6,241.3 259.4,239.4 261.2,236.6 263.1,233.2 264.9,229.8 266.7,226.5 268.6,224.0 270.4,222.4 272.2,221.6 274.0,221.2 275.8,221.1 277.7,221.0 279.5,220.5 281.3,219.5 283.1,218.0 285.0,216.3 286.8,214.5 288.6,212.7 290.4,211.2 292.3,210.0 294.1,208.8 295.9,207.1 297.8,204.5 299.6,200.5 301.4,194.8 303.2,187.0 305.0,177.8 306.9,167.8 308.7,157.8 310.5,148.6 312.3,140.9 314.2,135.5 316.0,132.8 317.8,133.6 319.6,137.9 321.5,145.2 323.3,154.9 325.1,166.3 326.9,178.7 328.8,191.3 330.6,203.2 332.4,213.7 334.2,221.9 336.1,227.3 337.9,230.3 339.7,231.4 341.5,231.2 343.4,230.3 345.2,229.3 347.0,228.7 348.8,228.4 350.7,228.5 352.5,228.8 354.3,229.2 356.1,229.8 358.0,230.4 359.8,231.0 361.6,231.6 363.4,232.3 365.3,233.0 367.1,233.8 368.9,234.7 370.8,235.6 372.6,236.5 374.4,237.3 376.2,238.0 378.1,238.6 379.9,239.0 381.7,239.1 383.5,238.9 385.3,238.3 387.2,237.3 389.0,235.7 390.8,233.6 392.6,231.1 394.5,228.4 396.3,225.6 398.1,222.9 399.9,220.5 401.8,218.5 403.6,216.9 405.4,215.7 407.2,214.9 409.1,214.3 410.9,213.9 412.7,213.8 414.5,213.9 416.4,214.3 418.2,215.0 420.0,216.2 421.8,217.9 423.7,220.1 425.5,222.5 427.3,225.2 429.1,227.8 431.0,230.1 432.8,232.0 434.6,233.3 436.4,234.2 438.3,234.7 440.1,235.0 441.9,235.3 443.7,235.7 445.6,236.3 447.4,237.0 449.2,237.8 451.0,238.5 452.9,238.9 454.7,239.1 456.5,238.9 458.3,238.4 460.2,237.9 462.0,237.5 463.8,237.4 465.6,237.8 467.5,238.8 469.3,240.2 471.1,241.8 472.9,243.2 474.8,244.2 476.6,244.4 478.4,243.7 480.2,242.4 482.1,240.6 483.9,238.7 485.7,237.0 487.5,235.7 489.4,235.1 491.2,234.9 493.0,234.9 494.8,234.9 496.7,234.4 498.5,233.3 500.3,231.3 502.1,228.3 504.0,224.1 505.8,218.8 507.6,212.2 509.4,204.2 511.3,194.9 513.1,184.5 514.9,173.5 516.8,162.2 518.6,151.1 520.4,140.6 522.2,131.1 524.0,123.4 525.9,118.4 527.7,116.9 529.5,119.4 531.4,126.2 533.2,137.2 535.0,151.3 536.8,167.3 538.6,183.7 540.5,199.5 542.3,213.1 544.1,223.7 545.9,231.5 547.8,237.2 549.6,241.3 551.4,244.4 553.2,247.1 555.1,249.9 556.9,252.7 558.7,255.2 560.5,257.0 562.4,258.1 564.2,258.0 566.0,256.6 567.8,254.3 569.7,251.5 571.5,248.7 573.3,246.1 575.1,244.4 577.0,243.8 578.8,243.9 580.6,244.2 582.4,244.3 584.3,243.7 586.1,241.8 587.9,238.4 589.7,233.7 591.6,228.4 593.4,222.8 595.2,217.5 597.0,213.1 598.9,209.9 600.7,207.7 602.5,206.5 604.3,206.1 606.2,206.1 608.0,206.5 609.8,207.1 611.6,207.8 613.5,208.8 615.3,210.1 617.1,211.8 618.9,213.9 620.8,216.5 622.6,219.3 624.4,222.2 626.2,224.9 628.1,227.3 629.9,229.0 631.7,230.0 633.5,230.3 635.4,230.1 637.2,229.5 639.0,228.6 640.9,227.7 642.7,226.8 644.5,225.9 646.3,225.0 648.1,224.0 650.0,223.0 651.8,221.9 653.6,220.7 655.4,219.3 657.3,217.8 659.1,216.0 660.9,214.0 662.8,211.8" fill="none" stroke-linejoin="round"/><circle cx="126.2" cy="188.9" r="5.3"/><circle cx="137.2" cy="182.0" r="5.3"/><circle cx="148.1" cy="187.9" r="5.3"/><circle cx="159.1" cy="175.4" r="5.3"/><circle cx="170.0" cy="183.4" r="5.3"/><circle cx="180.9" cy="188.7" r="5.3"/><circle cx="191.9" cy="202.7" r="5.3"/><circle cx="202.8" cy="215.2" r="5.3"/><circle cx="213.8" cy="224.5" r="5.3"/><circle cx="224.8" cy="228.5" r="5.3"/><circle cx="235.7" cy="234.4" r="5.3"/><circle cx="246.6" cy="236.5" r="5.3"/><circle cx="257.6" cy="241.3" r="5.3"/><circle cx="268.6" cy="224.0" r="5.3"/><circle cx="279.5" cy="220.5" r="5.3"/><circle cx="290.4" cy="211.2" r="5.3"/><circle cx="301.4" cy="194.8" r="5.3"/><circle cx="312.3" cy="140.9" r="5.3"/><circle cx="323.3" cy="154.9" r="5.3"/><circle cx="334.2" cy="221.9" r="5.3"/><circle cx="345.2" cy="229.3" r="5.3"/><circle cx="356.1" cy="229.8" r="5.3"/><circle cx="367.1" cy="233.8" r="5.3"/><circle cx="378.1" cy="238.6" r="5.3"/><circle cx="389.0" cy="235.7" r="5.3"/><circle cx="399.9" cy="220.5" r="5.3"/><circle cx="410.9" cy="213.9" r="5.3"/><circle cx="421.8" cy="217.9" r="5.3"/><circle cx="432.8" cy="232.0" r="5.3"/><circle cx="443.7" cy="235.7" r="5.3"/><circle cx="454.7" cy="239.1" r="5.3"/><circle cx="465.6" cy="237.8" r="5.3"/><circle cx="476.6" cy="244.4" r="5.3"/><circle cx="487.5" cy="235.7" r="5.3"/><circle cx="498.5" cy="233.3" r="5.3"/><circle cx="509.4" cy="204.2" r="5.3"/><circle cx="520.4" cy="140.6" r="5.3"/><circle cx="531.4" cy="126.2" r="5.3"/><circle cx="542.3" cy="213.1" r="5.3"/><circle cx="553.2" cy="247.1" r="5.3"/><circle cx="564.2" cy="258.0" r="5.3"/><circle cx="575.1" cy="244.4" r="5.3"/><circle cx="586.1" cy="241.8" r="5.3"/><circle cx="597.0" cy="213.1" r="5.3"/><circle cx="608.0" cy="206.5" r="5.3"/><circle cx="618.9" cy="213.9" r="5.3"/><circle cx="629.9" cy="229.0" r="5.3"/><circle cx="640.9" cy="227.7" r="5.3"/><circle cx="651.8" cy="221.9" r="5.3"/><circle cx="662.8" cy="211.8" r="5.3"/></g><g stroke="#62a046" stroke-width="1.9" fill="none"><polyline points="126.2,556.5 128.0,553.2 129.8,550.3 131.7,547.7 133.5,545.4 135.3,543.3 137.2,541.5 139.0,539.9 140.8,538.5 142.6,537.2 144.4,536.1 146.3,535.1 148.1,534.2 149.9,533.4 151.8,532.7 153.6,532.2 155.4,531.9 157.2,531.9 159.1,532.2 160.9,532.9 162.7,533.7 164.5,534.7 166.3,535.6 168.2,536.2 170.0,536.5 171.8,536.3 173.7,535.6 175.5,534.7 177.3,533.6 179.1,532.6 180.9,531.6 182.8,530.8 184.6,530.2 186.4,529.7 188.2,529.1 190.1,528.5 191.9,527.6 193.7,526.5 195.6,525.2 197.4,523.8 199.2,522.3 201.0,521.0 202.8,519.9 204.7,519.0 206.5,518.4 208.3,518.0 210.1,517.7 212.0,517.5 213.8,517.3 215.6,517.1 217.4,517.0 219.3,516.8 221.1,516.7 222.9,516.6 224.8,516.6 226.6,516.6 228.4,516.7 230.2,516.9 232.0,517.2 233.9,517.7 235.7,518.3 237.5,519.1 239.3,520.0 241.2,520.9 243.0,521.6 244.8,522.1 246.6,522.3 248.5,522.0 250.3,521.4 252.1,520.5 253.9,519.4 255.8,518.3 257.6,517.3 259.4,516.4 261.2,515.6 263.1,515.1 264.9,514.6 266.7,514.4 268.6,514.3 270.4,514.4 272.2,514.6 274.0,514.9 275.8,515.3 277.7,515.7 279.5,516.0 281.3,516.3 283.1,516.5 285.0,516.8 286.8,517.1 288.6,517.5 290.4,518.0 292.3,518.7 294.1,519.6 295.9,520.7 297.8,522.0 299.6,523.7 301.4,525.6 303.2,527.8 305.0,530.2 306.9,532.6 308.7,534.8 310.5,536.7 312.3,538.2 314.2,539.1 316.0,539.4 317.8,539.2 319.6,538.6 321.5,537.7 323.3,536.5 325.1,535.1 326.9,533.5 328.8,531.8 330.6,529.9 332.4,528.0 334.2,525.9 336.1,523.8 337.9,521.6 339.7,519.5 341.5,517.5 343.4,515.6 345.2,514.0 347.0,512.6 348.8,511.6 350.7,510.8 352.5,510.3 354.3,510.0 356.1,510.0 358.0,510.3 359.8,510.8 361.6,511.5 363.4,512.5 365.3,513.6 367.1,515.0 368.9,516.5 370.8,518.2 372.6,519.8 374.4,521.4 376.2,522.8 378.1,523.9 379.9,524.7 381.7,525.3 383.5,525.9 385.3,526.4 387.2,527.2 389.0,528.2 390.8,529.6 392.6,531.3 394.5,533.0 396.3,534.5 398.1,535.8 399.9,536.5 401.8,536.6 403.6,536.1 405.4,535.2 407.2,534.1 409.1,532.8 410.9,531.6 412.7,530.6 414.5,529.7 416.4,529.0 418.2,528.6 420.0,528.3 421.8,528.2 423.7,528.3 425.5,528.5 427.3,528.6 429.1,528.6 431.0,528.3 432.8,527.6 434.6,526.5 436.4,525.2 438.3,524.0 440.1,523.4 441.9,523.5 443.7,524.9 445.6,527.5 447.4,530.2 449.2,531.7 451.0,530.5 452.9,525.4 454.7,515.0 456.5,498.5 458.3,477.8 460.2,455.3 462.0,433.7 463.8,415.4 465.6,403.0 467.5,398.3 469.3,401.1 471.1,410.1 472.9,423.2 474.8,438.5 476.6,453.8 478.4,467.5 480.2,479.3 482.1,489.7 483.9,498.7 485.7,506.7 487.5,513.8 489.4,520.3 491.2,526.4 493.0,532.1 494.8,537.6 496.7,542.9 498.5,548.2 500.3,553.4 502.1,557.6 504.0,559.9 505.8,559.3 507.6,556.3 509.4,552.2 511.3,548.1 513.1,544.2 514.9,540.7 516.8,537.8 518.6,535.4 520.4,533.9 522.2,533.2 524.0,533.0 525.9,533.2 527.7,533.4 529.5,533.3 531.4,532.6 533.2,531.2 535.0,529.2 536.8,527.2 538.6,525.4 540.5,524.3 542.3,524.3 544.1,525.6 545.9,527.8 547.8,530.6 549.6,533.4 551.4,535.9 553.2,537.5 555.1,537.9 556.9,537.4 558.7,536.2 560.5,534.7 562.4,533.3 564.2,532.2 566.0,531.7 567.8,531.8 569.7,532.1 571.5,532.5 573.3,532.7 575.1,532.6 577.0,532.0 578.8,531.0 580.6,529.8 582.4,528.5 584.3,527.4 586.1,526.6 587.9,526.2 589.7,526.2 591.6,526.3 593.4,526.4 595.2,526.2 597.0,525.6 598.9,524.5 600.7,522.9 602.5,521.0 604.3,519.0 606.2,516.9 608.0,515.0 609.8,513.4 611.6,512.0 613.5,511.1 615.3,510.6 617.1,510.5 618.9,511.0 620.8,512.0 622.6,513.3 624.4,514.8 626.2,516.1 628.1,517.1 629.9,517.6 631.7,517.3 633.5,516.5 635.4,515.1 637.2,513.3 639.0,511.4 640.9,509.3 642.7,507.3 644.5,505.4 646.3,503.6 648.1,501.9 650.0,500.5 651.8,499.3 653.6,498.4 655.4,497.8 657.3,497.5 659.1,497.7 660.9,498.3 662.8,499.3" fill="none" stroke-linejoin="round"/><rect x="121.2" y="551.5" width="9.9" height="9.9"/><rect x="132.2" y="536.5" width="9.9" height="9.9"/><rect x="143.2" y="529.2" width="9.9" height="9.9"/><rect x="154.1" y="527.2" width="9.9" height="9.9"/><rect x="165.1" y="531.5" width="9.9" height="9.9"/><rect x="176.0" y="526.6" width="9.9" height="9.9"/><rect x="186.9" y="522.6" width="9.9" height="9.9"/><rect x="197.9" y="514.9" width="9.9" height="9.9"/><rect x="208.9" y="512.3" width="9.9" height="9.9"/><rect x="219.8" y="511.7" width="9.9" height="9.9"/><rect x="230.8" y="513.3" width="9.9" height="9.9"/><rect x="241.7" y="517.3" width="9.9" height="9.9"/><rect x="252.6" y="512.3" width="9.9" height="9.9"/><rect x="263.6" y="509.3" width="9.9" height="9.9"/><rect x="274.6" y="511.1" width="9.9" height="9.9"/><rect x="285.5" y="513.0" width="9.9" height="9.9"/><rect x="296.4" y="520.6" width="9.9" height="9.9"/><rect x="307.4" y="533.2" width="9.9" height="9.9"/><rect x="318.4" y="531.5" width="9.9" height="9.9"/><rect x="329.3" y="520.9" width="9.9" height="9.9"/><rect x="340.2" y="509.1" width="9.9" height="9.9"/><rect x="351.2" y="505.1" width="9.9" height="9.9"/><rect x="362.1" y="510.1" width="9.9" height="9.9"/><rect x="373.1" y="518.9" width="9.9" height="9.9"/><rect x="384.0" y="523.2" width="9.9" height="9.9"/><rect x="395.0" y="531.5" width="9.9" height="9.9"/><rect x="405.9" y="526.6" width="9.9" height="9.9"/><rect x="416.9" y="523.2" width="9.9" height="9.9"/><rect x="427.8" y="522.6" width="9.9" height="9.9"/><rect x="438.8" y="519.9" width="9.9" height="9.9"/><rect x="449.8" y="493.9" width="9.9" height="9.9"/><rect x="460.7" y="398.1" width="9.9" height="9.9"/><rect x="471.6" y="448.9" width="9.9" height="9.9"/><rect x="482.6" y="508.8" width="9.9" height="9.9"/><rect x="493.5" y="543.2" width="9.9" height="9.9"/><rect x="504.5" y="547.2" width="9.9" height="9.9"/><rect x="515.4" y="528.9" width="9.9" height="9.9"/><rect x="526.4" y="527.6" width="9.9" height="9.9"/><rect x="537.3" y="519.3" width="9.9" height="9.9"/><rect x="548.3" y="532.5" width="9.9" height="9.9"/><rect x="559.2" y="527.2" width="9.9" height="9.9"/><rect x="570.2" y="527.6" width="9.9" height="9.9"/><rect x="581.1" y="521.6" width="9.9" height="9.9"/><rect x="592.1" y="520.6" width="9.9" height="9.9"/><rect x="603.0" y="510.1" width="9.9" height="9.9"/><rect x="614.0" y="506.1" width="9.9" height="9.9"/><rect x="624.9" y="512.6" width="9.9" height="9.9"/><rect x="635.9" y="504.4" width="9.9" height="9.9"/><rect x="646.8" y="494.4" width="9.9" height="9.9"/><rect x="657.8" y="494.4" width="9.9" height="9.9"/></g><g stroke="#3f4a9b" stroke-width="1.9" fill="none"><polyline points="126.2,585.7 128.0,581.1 129.8,577.2 131.7,573.8 133.5,571.0 135.3,568.5 137.2,566.4 139.0,564.6 140.8,562.9 142.6,561.3 144.4,559.8 146.3,558.2 148.1,556.5 149.9,554.6 151.8,552.7 153.6,551.0 155.4,549.8 157.2,549.1 159.1,549.2 160.9,550.2 162.7,551.9 164.5,553.6 166.3,555.1 168.2,555.9 170.0,555.5 171.8,553.7 173.7,550.6 175.5,546.7 177.3,542.2 179.1,537.6 180.9,533.2 182.8,529.3 184.6,525.9 186.4,523.2 188.2,521.1 190.1,519.6 191.9,518.9 193.7,518.8 195.6,519.3 197.4,520.2 199.2,521.3 201.0,522.4 202.8,523.3 204.7,523.9 206.5,524.2 208.3,524.2 210.1,523.7 212.0,522.9 213.8,521.6 215.6,519.9 217.4,518.1 219.3,516.3 221.1,514.9 222.9,514.0 224.8,514.0 226.6,515.0 228.4,516.8 230.2,519.1 232.0,521.6 233.9,523.9 235.7,525.9 237.5,527.2 239.3,527.9 241.2,528.1 243.0,527.9 244.8,527.3 246.6,526.6 248.5,525.7 250.3,524.8 252.1,523.7 253.9,522.7 255.8,521.6 257.6,520.6 259.4,519.6 261.2,518.7 263.1,517.7 264.9,516.8 266.7,515.9 268.6,515.0 270.4,514.1 272.2,513.3 274.0,512.7 275.8,512.4 277.7,512.6 279.5,513.3 281.3,514.6 283.1,516.5 285.0,518.7 286.8,521.3 288.6,523.9 290.4,526.6 292.3,529.2 294.1,531.5 295.9,533.7 297.8,535.5 299.6,537.1 301.4,538.2 303.2,538.9 305.0,539.4 306.9,539.6 308.7,539.9 310.5,540.3 312.3,540.9 314.2,541.9 316.0,543.0 317.8,544.2 319.6,545.1 321.5,545.6 323.3,545.5 325.1,544.6 326.9,542.9 328.8,540.2 330.6,536.7 332.4,532.1 334.2,526.6 336.1,520.1 337.9,513.2 339.7,506.2 341.5,499.8 343.4,494.4 345.2,490.7 347.0,488.9 348.8,489.0 350.7,490.6 352.5,493.5 354.3,497.3 356.1,501.7 358.0,506.5 359.8,511.3 361.6,516.1 363.4,520.3 365.3,523.9 367.1,526.6 368.9,528.2 370.8,528.7 372.6,528.5 374.4,527.6 376.2,526.4 378.1,524.9 379.9,523.4 381.7,522.0 383.5,520.9 385.3,520.2 387.2,520.1 389.0,520.6 390.8,521.9 392.6,523.8 394.5,525.9 396.3,528.1 398.1,530.1 399.9,531.6 401.8,532.4 403.6,532.5 405.4,532.2 407.2,531.6 409.1,530.8 410.9,529.9 412.7,529.1 414.5,528.4 416.4,527.8 418.2,527.3 420.0,526.9 421.8,526.6 423.7,526.4 425.5,526.4 427.3,526.6 429.1,527.3 431.0,528.3 432.8,529.9 434.6,532.1 436.4,534.6 438.3,537.4 440.1,540.2 441.9,542.7 443.7,544.9 445.6,546.4 447.4,546.6 449.2,544.9 451.0,540.6 452.9,533.1 454.7,521.7 456.5,506.1 458.3,487.6 460.2,467.5 462.0,447.6 463.8,429.3 465.6,414.2 467.5,403.9 469.3,400.5 471.1,404.8 472.9,415.1 474.8,429.1 476.6,444.6 478.4,459.7 480.2,474.0 482.1,487.2 483.9,499.2 485.7,509.9 487.5,519.0 489.4,526.5 491.2,532.4 493.0,537.0 494.8,540.5 496.7,543.1 498.5,544.9 500.3,546.1 502.1,546.8 504.0,547.0 505.8,546.7 507.6,546.0 509.4,544.9 511.3,543.4 513.1,541.7 514.9,539.9 516.8,538.1 518.6,536.4 520.4,534.9 522.2,533.8 524.0,532.9 525.9,532.2 527.7,531.5 529.5,530.8 531.4,529.9 533.2,528.8 535.0,527.5 536.8,526.3 538.6,525.4 540.5,524.8 542.3,524.9 544.1,525.7 545.9,527.1 547.8,529.0 549.6,531.3 551.4,533.9 553.2,536.6 555.1,539.3 556.9,542.0 558.7,544.6 560.5,546.9 562.4,549.0 564.2,550.8 566.0,552.2 567.8,553.1 569.7,553.5 571.5,553.3 573.3,552.4 575.1,550.8 577.0,548.4 578.8,545.5 580.6,542.3 582.4,539.0 584.3,535.9 586.1,533.2 587.9,531.1 589.7,529.7 591.6,528.7 593.4,528.2 595.2,528.1 597.0,528.2 598.9,528.6 600.7,529.0 602.5,529.6 604.3,530.1 606.2,530.6 608.0,530.9 609.8,531.0 611.6,530.9 613.5,530.7 615.3,530.4 617.1,530.2 618.9,529.9 620.8,529.7 622.6,529.7 624.4,530.0 626.2,530.6 628.1,531.6 629.9,533.2 631.7,535.3 633.5,537.7 635.4,540.1 637.2,542.2 639.0,543.6 640.9,544.2 642.7,543.6 644.5,542.1 646.3,539.7 648.1,536.7 650.0,533.4 651.8,529.9 653.6,526.5 655.4,523.3 657.3,520.5 659.1,518.5 660.9,517.4 662.8,517.3" fill="none" stroke-linejoin="round"/><circle cx="126.2" cy="585.7" r="5.3"/><circle cx="137.2" cy="566.4" r="5.3"/><circle cx="148.1" cy="556.5" r="5.3"/><circle cx="159.1" cy="549.2" r="5.3"/><circle cx="170.0" cy="555.5" r="5.3"/><circle cx="180.9" cy="533.2" r="5.3"/><circle cx="191.9" cy="518.9" r="5.3"/><circle cx="202.8" cy="523.3" r="5.3"/><circle cx="213.8" cy="521.6" r="5.3"/><circle cx="224.8" cy="514.0" r="5.3"/><circle cx="235.7" cy="525.9" r="5.3"/><circle cx="246.6" cy="526.6" r="5.3"/><circle cx="257.6" cy="520.6" r="5.3"/><circle cx="268.6" cy="515.0" r="5.3"/><circle cx="279.5" cy="513.3" r="5.3"/><circle cx="290.4" cy="526.6" r="5.3"/><circle cx="301.4" cy="538.2" r="5.3"/><circle cx="312.3" cy="540.9" r="5.3"/><circle cx="323.3" cy="545.5" r="5.3"/><circle cx="334.2" cy="526.6" r="5.3"/><circle cx="345.2" cy="490.7" r="5.3"/><circle cx="356.1" cy="501.7" r="5.3"/><circle cx="367.1" cy="526.6" r="5.3"/><circle cx="378.1" cy="524.9" r="5.3"/><circle cx="389.0" cy="520.6" r="5.3"/><circle cx="399.9" cy="531.6" r="5.3"/><circle cx="410.9" cy="529.9" r="5.3"/><circle cx="421.8" cy="526.6" r="5.3"/><circle cx="432.8" cy="529.9" r="5.3"/><circle cx="443.7" cy="544.9" r="5.3"/><circle cx="454.7" cy="521.7" r="5.3"/><circle cx="465.6" cy="414.2" r="5.3"/><circle cx="476.6" cy="444.6" r="5.3"/><circle cx="487.5" cy="519.0" r="5.3"/><circle cx="498.5" cy="544.9" r="5.3"/><circle cx="509.4" cy="544.9" r="5.3"/><circle cx="520.4" cy="534.9" r="5.3"/><circle cx="531.4" cy="529.9" r="5.3"/><circle cx="542.3" cy="524.9" r="5.3"/><circle cx="553.2" cy="536.6" r="5.3"/><circle cx="564.2" cy="550.8" r="5.3"/><circle cx="575.1" cy="550.8" r="5.3"/><circle cx="586.1" cy="533.2" r="5.3"/><circle cx="597.0" cy="528.2" r="5.3"/><circle cx="608.0" cy="530.9" r="5.3"/><circle cx="618.9" cy="529.9" r="5.3"/><circle cx="629.9" cy="533.2" r="5.3"/><circle cx="640.9" cy="544.2" r="5.3"/><circle cx="651.8" cy="529.9" r="5.3"/><circle cx="662.8" cy="517.3" r="5.3"/></g></svg>
<svg width="674" height="602" viewBox="0 0 674 602" style="position:absolute;left:0;top:0" font-family="'Liberation Sans', sans-serif" fill="#151515" stroke="#151515" stroke-width="0.4"><text transform="translate(61.3,23.4) scale(1.068,1)" font-size="23.2">(a) Probes parallel to <tspan stroke-width="0.65">B</tspan></text><text transform="translate(61.3,326.3) scale(1.075,1)" font-size="23.2">(b) Probes perpendicular to <tspan stroke-width="0.95">B</tspan></text><text transform="translate(521.8,24.7) scale(1.03,1)" font-size="24.3">20 ns</text><text transform="translate(549.8,326.7) scale(1.02,1)" font-size="24.3">20 ns</text><text transform="translate(173.4,138.7) scale(1.0,1)" font-size="24.3">1 ns</text><text transform="translate(173.4,440.7) scale(1.0,1)" font-size="24.3">1 ns</text><text transform="translate(107.2,127.4) scale(1.035,1)" font-size="24.3" text-anchor="end">0.04</text><text transform="translate(107.2,178.8) scale(1.035,1)" font-size="24.3" text-anchor="end">0.02</text><text transform="translate(107.2,231.6) scale(1.035,1)" font-size="24.3" text-anchor="end">0</text><text transform="translate(107.2,282.7) scale(1.035,1)" font-size="24.3" text-anchor="end">−0.02</text><text transform="translate(107.2,429.1) scale(1.035,1)" font-size="24.3" text-anchor="end">0.04</text><text transform="translate(107.2,481.0) scale(1.035,1)" font-size="24.3" text-anchor="end">0.02</text><text transform="translate(107.2,533.4) scale(1.035,1)" font-size="24.3" text-anchor="end">0</text><text transform="translate(107.2,584.5) scale(1.035,1)" font-size="24.3" text-anchor="end">−0.02</text><text transform="translate(23.2,241.9) rotate(-90) scale(1.062,1)" font-size="23.2">Signal [V]</text><text transform="translate(23.2,543.9) rotate(-90) scale(1.062,1)" font-size="23.2">Signal [V]</text></svg>
</div>
</body></html>
